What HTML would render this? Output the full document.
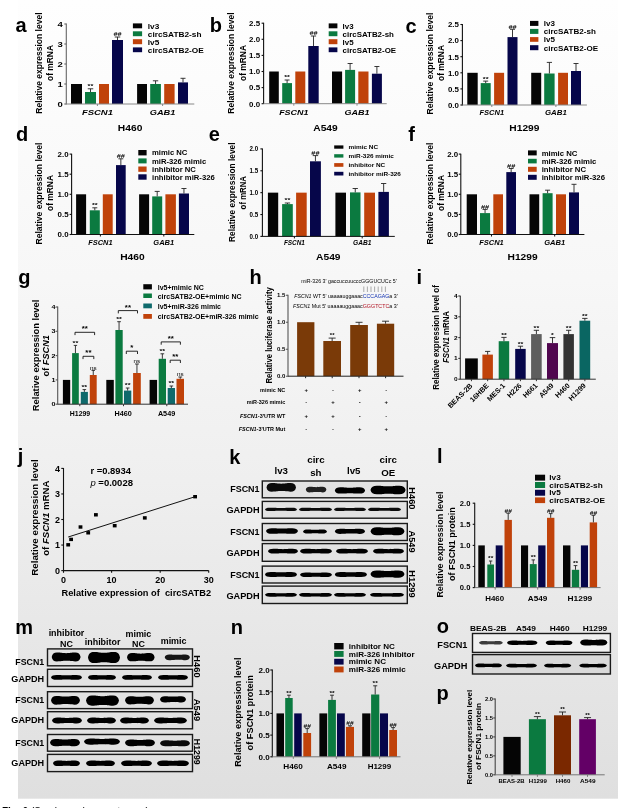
<!DOCTYPE html><html><head><meta charset="utf-8"><style>html,body{margin:0;padding:0;background:#fff;overflow:hidden}svg{display:block}</style></head><body><svg width="624" height="808" viewBox="0 0 624 808" font-family='"Liberation Sans", Arial, sans-serif'><rect x="0" y="0" width="624" height="808" fill="#fff"/>
<defs><linearGradient id="bgg" x1="0" y1="0" x2="0" y2="1"><stop offset="0" stop-color="#fefefe"/><stop offset="0.35" stop-color="#f7f7f7"/><stop offset="0.6" stop-color="#efefef"/><stop offset="1" stop-color="#dfdfdf"/></linearGradient><filter id="blur1" x="-20%" y="-80%" width="140%" height="260%"><feGaussianBlur stdDeviation="0.7"/></filter><filter id="blur2" x="-20%" y="-80%" width="140%" height="260%"><feGaussianBlur stdDeviation="0.8"/></filter></defs>
<rect x="18" y="0" width="600" height="798.7" fill="url(#bgg)"/>
<text x="15.50" y="31.70" font-size="20" font-weight="bold" textLength="11.12" lengthAdjust="spacingAndGlyphs">a</text>
<text transform="translate(42.04,63.10) rotate(-90)" font-size="9.0" font-weight="bold" text-anchor="middle" textLength="101.20" lengthAdjust="spacingAndGlyphs">Relative expression level</text>
<text transform="translate(53.44,63.00) rotate(-90)" font-size="9.0" font-weight="bold" text-anchor="middle" textLength="36.00" lengthAdjust="spacingAndGlyphs">of mRNA</text>
<line x1="66.30" y1="23.60" x2="66.30" y2="104.40" stroke="#666" stroke-width="1.1"/>
<line x1="64.30" y1="104.00" x2="66.30" y2="104.00" stroke="#666" stroke-width="1.1"/>
<text x="62.80" y="106.88" font-size="8.0" font-weight="bold" text-anchor="end" textLength="5.29" lengthAdjust="spacingAndGlyphs">0</text>
<line x1="64.30" y1="84.00" x2="66.30" y2="84.00" stroke="#666" stroke-width="1.1"/>
<text x="62.80" y="86.88" font-size="8.0" font-weight="bold" text-anchor="end" textLength="5.29" lengthAdjust="spacingAndGlyphs">1</text>
<line x1="64.30" y1="64.00" x2="66.30" y2="64.00" stroke="#666" stroke-width="1.1"/>
<text x="62.80" y="66.88" font-size="8.0" font-weight="bold" text-anchor="end" textLength="5.29" lengthAdjust="spacingAndGlyphs">2</text>
<line x1="64.30" y1="44.00" x2="66.30" y2="44.00" stroke="#666" stroke-width="1.1"/>
<text x="62.80" y="46.88" font-size="8.0" font-weight="bold" text-anchor="end" textLength="5.29" lengthAdjust="spacingAndGlyphs">3</text>
<line x1="64.30" y1="24.00" x2="66.30" y2="24.00" stroke="#666" stroke-width="1.1"/>
<text x="62.80" y="26.88" font-size="8.0" font-weight="bold" text-anchor="end" textLength="5.29" lengthAdjust="spacingAndGlyphs">4</text>
<rect x="71.00" y="84.00" width="11.00" height="20.00" fill="#050505" />
<rect x="85.00" y="92.00" width="11.00" height="12.00" fill="#0b7a40" />
<line x1="90.50" y1="88.80" x2="90.50" y2="92.00" stroke="#222" stroke-width="0.9"/>
<line x1="87.75" y1="88.80" x2="93.25" y2="88.80" stroke="#222" stroke-width="0.9"/>
<text x="90.50" y="88.20" font-size="6.2" font-weight="bold" text-anchor="middle" textLength="5.74" lengthAdjust="spacingAndGlyphs">**</text>
<rect x="99.00" y="84.00" width="10.00" height="20.00" fill="#c0420a" />
<rect x="112.00" y="40.00" width="11.00" height="64.00" fill="#06064a" />
<line x1="117.50" y1="37.00" x2="117.50" y2="40.00" stroke="#222" stroke-width="0.9"/>
<line x1="114.75" y1="37.00" x2="120.25" y2="37.00" stroke="#222" stroke-width="0.9"/>
<text x="117.50" y="36.40" font-size="6.2" font-weight="bold" text-anchor="middle" textLength="8.21" lengthAdjust="spacingAndGlyphs">##</text>
<rect x="137.10" y="84.00" width="9.90" height="20.00" fill="#050505" />
<rect x="150.20" y="84.00" width="10.70" height="20.00" fill="#0b7a40" />
<line x1="155.55" y1="80.80" x2="155.55" y2="84.00" stroke="#222" stroke-width="0.9"/>
<line x1="152.88" y1="80.80" x2="158.23" y2="80.80" stroke="#222" stroke-width="0.9"/>
<rect x="164.20" y="84.00" width="10.40" height="20.00" fill="#c0420a" />
<rect x="178.00" y="82.40" width="10.00" height="21.60" fill="#06064a" />
<line x1="183.00" y1="78.30" x2="183.00" y2="82.40" stroke="#222" stroke-width="0.9"/>
<line x1="180.50" y1="78.30" x2="185.50" y2="78.30" stroke="#222" stroke-width="0.9"/>
<line x1="66.30" y1="104.00" x2="194.30" y2="104.00" stroke="#888" stroke-width="1.0"/>
<line x1="97.40" y1="104.00" x2="97.40" y2="106.00" stroke="#888" stroke-width="1.0"/>
<line x1="162.60" y1="104.00" x2="162.60" y2="106.00" stroke="#888" stroke-width="1.0"/>
<text x="97.40" y="114.70" font-size="7.8" font-weight="bold" text-anchor="middle" textLength="31.00" lengthAdjust="spacingAndGlyphs"><tspan font-style="italic">FSCN1</tspan></text>
<text x="162.60" y="114.70" font-size="7.8" font-weight="bold" text-anchor="middle" textLength="25.70" lengthAdjust="spacingAndGlyphs"><tspan font-style="italic">GAB1</tspan></text>
<text x="130.10" y="131.20" font-size="8.6" font-weight="bold" text-anchor="middle" textLength="24.47" lengthAdjust="spacingAndGlyphs">H460</text>
<rect x="132.90" y="23.40" width="9.20" height="4.90" fill="#050505" />
<text x="147.80" y="28.77" font-size="8.1" font-weight="bold" textLength="11.51" lengthAdjust="spacingAndGlyphs">lv3</text>
<rect x="132.90" y="31.30" width="9.20" height="4.90" fill="#0b7a40" />
<text x="147.80" y="36.67" font-size="8.1" font-weight="bold" textLength="53.70" lengthAdjust="spacingAndGlyphs">circSATB2-sh</text>
<rect x="132.90" y="39.20" width="9.20" height="5.00" fill="#c0420a" />
<text x="147.80" y="44.62" font-size="8.1" font-weight="bold" textLength="11.51" lengthAdjust="spacingAndGlyphs">lv5</text>
<rect x="132.90" y="47.40" width="9.20" height="4.80" fill="#06064a" />
<text x="147.80" y="52.72" font-size="8.1" font-weight="bold" textLength="56.00" lengthAdjust="spacingAndGlyphs">circSATB2-OE</text>
<text x="209.70" y="31.80" font-size="20" font-weight="bold" textLength="12.22" lengthAdjust="spacingAndGlyphs">b</text>
<text transform="translate(233.84,63.10) rotate(-90)" font-size="9.0" font-weight="bold" text-anchor="middle" textLength="101.20" lengthAdjust="spacingAndGlyphs">Relative expression level</text>
<text transform="translate(245.54,63.00) rotate(-90)" font-size="9.0" font-weight="bold" text-anchor="middle" textLength="36.00" lengthAdjust="spacingAndGlyphs">of mRNA</text>
<line x1="263.60" y1="22.80" x2="263.60" y2="104.10" stroke="#111" stroke-width="1.1"/>
<line x1="261.60" y1="103.70" x2="263.60" y2="103.70" stroke="#111" stroke-width="1.1"/>
<text x="260.10" y="106.58" font-size="8.0" font-weight="bold" text-anchor="end" textLength="11.00" lengthAdjust="spacingAndGlyphs">0.0</text>
<line x1="261.60" y1="87.60" x2="263.60" y2="87.60" stroke="#111" stroke-width="1.1"/>
<text x="260.10" y="90.48" font-size="8.0" font-weight="bold" text-anchor="end" textLength="11.00" lengthAdjust="spacingAndGlyphs">0.5</text>
<line x1="261.60" y1="71.50" x2="263.60" y2="71.50" stroke="#111" stroke-width="1.1"/>
<text x="260.10" y="74.38" font-size="8.0" font-weight="bold" text-anchor="end" textLength="11.00" lengthAdjust="spacingAndGlyphs">1.0</text>
<line x1="261.60" y1="55.40" x2="263.60" y2="55.40" stroke="#111" stroke-width="1.1"/>
<text x="260.10" y="58.28" font-size="8.0" font-weight="bold" text-anchor="end" textLength="11.00" lengthAdjust="spacingAndGlyphs">1.5</text>
<line x1="261.60" y1="39.30" x2="263.60" y2="39.30" stroke="#111" stroke-width="1.1"/>
<text x="260.10" y="42.18" font-size="8.0" font-weight="bold" text-anchor="end" textLength="11.00" lengthAdjust="spacingAndGlyphs">2.0</text>
<line x1="261.60" y1="23.20" x2="263.60" y2="23.20" stroke="#111" stroke-width="1.1"/>
<text x="260.10" y="26.08" font-size="8.0" font-weight="bold" text-anchor="end" textLength="11.00" lengthAdjust="spacingAndGlyphs">2.5</text>
<rect x="269.20" y="71.50" width="9.60" height="32.20" fill="#050505" />
<rect x="282.20" y="83.10" width="9.80" height="20.60" fill="#0b7a40" />
<line x1="287.10" y1="80.00" x2="287.10" y2="83.10" stroke="#222" stroke-width="0.9"/>
<line x1="284.65" y1="80.00" x2="289.55" y2="80.00" stroke="#222" stroke-width="0.9"/>
<text x="287.10" y="79.40" font-size="6.2" font-weight="bold" text-anchor="middle" textLength="5.74" lengthAdjust="spacingAndGlyphs">**</text>
<rect x="295.30" y="71.50" width="10.00" height="32.20" fill="#c0420a" />
<rect x="308.30" y="46.00" width="10.40" height="57.70" fill="#06064a" />
<line x1="313.50" y1="36.00" x2="313.50" y2="46.00" stroke="#222" stroke-width="0.9"/>
<line x1="310.90" y1="36.00" x2="316.10" y2="36.00" stroke="#222" stroke-width="0.9"/>
<text x="313.50" y="35.40" font-size="6.2" font-weight="bold" text-anchor="middle" textLength="8.21" lengthAdjust="spacingAndGlyphs">##</text>
<rect x="332.00" y="71.50" width="10.10" height="32.20" fill="#050505" />
<rect x="345.10" y="69.90" width="10.00" height="33.80" fill="#0b7a40" />
<line x1="350.10" y1="63.50" x2="350.10" y2="69.90" stroke="#222" stroke-width="0.9"/>
<line x1="347.60" y1="63.50" x2="352.60" y2="63.50" stroke="#222" stroke-width="0.9"/>
<rect x="358.30" y="71.50" width="10.20" height="32.20" fill="#c0420a" />
<rect x="371.90" y="73.70" width="10.00" height="30.00" fill="#06064a" />
<line x1="376.90" y1="66.50" x2="376.90" y2="73.70" stroke="#222" stroke-width="0.9"/>
<line x1="374.40" y1="66.50" x2="379.40" y2="66.50" stroke="#222" stroke-width="0.9"/>
<line x1="263.60" y1="103.70" x2="386.70" y2="103.70" stroke="#888" stroke-width="1.0"/>
<line x1="293.80" y1="103.70" x2="293.80" y2="105.70" stroke="#888" stroke-width="1.0"/>
<line x1="357.00" y1="103.70" x2="357.00" y2="105.70" stroke="#888" stroke-width="1.0"/>
<text x="293.80" y="114.70" font-size="7.6" font-weight="bold" text-anchor="middle" textLength="29.30" lengthAdjust="spacingAndGlyphs"><tspan font-style="italic">FSCN1</tspan></text>
<text x="357.00" y="114.70" font-size="7.6" font-weight="bold" text-anchor="middle" textLength="25.10" lengthAdjust="spacingAndGlyphs"><tspan font-style="italic">GAB1</tspan></text>
<text x="325.50" y="131.20" font-size="8.6" font-weight="bold" text-anchor="middle" textLength="24.47" lengthAdjust="spacingAndGlyphs">A549</text>
<rect x="328.70" y="23.40" width="8.70" height="4.90" fill="#050505" />
<text x="342.60" y="28.77" font-size="8.1" font-weight="bold" textLength="11.00" lengthAdjust="spacingAndGlyphs">lv3</text>
<rect x="328.70" y="31.30" width="8.70" height="4.90" fill="#0b7a40" />
<text x="342.60" y="36.67" font-size="8.1" font-weight="bold" textLength="51.30" lengthAdjust="spacingAndGlyphs">circSATB2-sh</text>
<rect x="328.70" y="39.20" width="8.70" height="5.00" fill="#c0420a" />
<text x="342.60" y="44.62" font-size="8.1" font-weight="bold" textLength="11.00" lengthAdjust="spacingAndGlyphs">lv5</text>
<rect x="328.70" y="47.40" width="8.70" height="4.80" fill="#06064a" />
<text x="342.60" y="52.72" font-size="8.1" font-weight="bold" textLength="53.50" lengthAdjust="spacingAndGlyphs">circSATB2-OE</text>
<text x="405.60" y="32.60" font-size="20" font-weight="bold" textLength="11.12" lengthAdjust="spacingAndGlyphs">c</text>
<text transform="translate(432.64,63.50) rotate(-90)" font-size="9.0" font-weight="bold" text-anchor="middle" textLength="102.00" lengthAdjust="spacingAndGlyphs">Relative expression level</text>
<text transform="translate(443.94,63.00) rotate(-90)" font-size="9.0" font-weight="bold" text-anchor="middle" textLength="36.00" lengthAdjust="spacingAndGlyphs">of mRNA</text>
<line x1="462.40" y1="24.10" x2="462.40" y2="105.40" stroke="#111" stroke-width="1.1"/>
<line x1="460.40" y1="105.00" x2="462.40" y2="105.00" stroke="#111" stroke-width="1.1"/>
<text x="458.90" y="107.88" font-size="8.0" font-weight="bold" text-anchor="end" textLength="11.00" lengthAdjust="spacingAndGlyphs">0.0</text>
<line x1="460.40" y1="88.90" x2="462.40" y2="88.90" stroke="#111" stroke-width="1.1"/>
<text x="458.90" y="91.78" font-size="8.0" font-weight="bold" text-anchor="end" textLength="11.00" lengthAdjust="spacingAndGlyphs">0.5</text>
<line x1="460.40" y1="72.80" x2="462.40" y2="72.80" stroke="#111" stroke-width="1.1"/>
<text x="458.90" y="75.68" font-size="8.0" font-weight="bold" text-anchor="end" textLength="11.00" lengthAdjust="spacingAndGlyphs">1.0</text>
<line x1="460.40" y1="56.70" x2="462.40" y2="56.70" stroke="#111" stroke-width="1.1"/>
<text x="458.90" y="59.58" font-size="8.0" font-weight="bold" text-anchor="end" textLength="11.00" lengthAdjust="spacingAndGlyphs">1.5</text>
<line x1="460.40" y1="40.60" x2="462.40" y2="40.60" stroke="#111" stroke-width="1.1"/>
<text x="458.90" y="43.48" font-size="8.0" font-weight="bold" text-anchor="end" textLength="11.00" lengthAdjust="spacingAndGlyphs">2.0</text>
<line x1="460.40" y1="24.50" x2="462.40" y2="24.50" stroke="#111" stroke-width="1.1"/>
<text x="458.90" y="27.38" font-size="8.0" font-weight="bold" text-anchor="end" textLength="11.00" lengthAdjust="spacingAndGlyphs">2.5</text>
<rect x="467.30" y="72.80" width="10.40" height="32.20" fill="#050505" />
<rect x="480.70" y="83.10" width="10.00" height="21.90" fill="#0b7a40" />
<line x1="485.70" y1="81.10" x2="485.70" y2="83.10" stroke="#222" stroke-width="0.9"/>
<line x1="483.20" y1="81.10" x2="488.20" y2="81.10" stroke="#222" stroke-width="0.9"/>
<text x="485.70" y="80.50" font-size="6.2" font-weight="bold" text-anchor="middle" textLength="5.74" lengthAdjust="spacingAndGlyphs">**</text>
<rect x="494.10" y="72.80" width="10.00" height="32.20" fill="#c0420a" />
<rect x="507.50" y="37.10" width="10.00" height="67.90" fill="#06064a" />
<line x1="512.50" y1="29.30" x2="512.50" y2="37.10" stroke="#222" stroke-width="0.9"/>
<line x1="510.00" y1="29.30" x2="515.00" y2="29.30" stroke="#222" stroke-width="0.9"/>
<text x="512.50" y="28.70" font-size="6.2" font-weight="bold" text-anchor="middle" textLength="8.21" lengthAdjust="spacingAndGlyphs">##</text>
<rect x="531.20" y="72.80" width="10.00" height="32.20" fill="#050505" />
<rect x="544.20" y="73.50" width="10.40" height="31.50" fill="#0b7a40" />
<line x1="549.40" y1="62.40" x2="549.40" y2="73.50" stroke="#222" stroke-width="0.9"/>
<line x1="546.80" y1="62.40" x2="552.00" y2="62.40" stroke="#222" stroke-width="0.9"/>
<rect x="558.10" y="72.80" width="9.90" height="32.20" fill="#c0420a" />
<rect x="571.00" y="71.00" width="10.00" height="34.00" fill="#06064a" />
<line x1="576.00" y1="63.50" x2="576.00" y2="71.00" stroke="#222" stroke-width="0.9"/>
<line x1="573.50" y1="63.50" x2="578.50" y2="63.50" stroke="#222" stroke-width="0.9"/>
<line x1="462.40" y1="105.00" x2="586.90" y2="105.00" stroke="#888" stroke-width="1.0"/>
<line x1="491.80" y1="105.00" x2="491.80" y2="107.00" stroke="#888" stroke-width="1.0"/>
<line x1="555.90" y1="105.00" x2="555.90" y2="107.00" stroke="#888" stroke-width="1.0"/>
<text x="491.80" y="115.00" font-size="7.0" font-weight="bold" text-anchor="middle" textLength="24.50" lengthAdjust="spacingAndGlyphs"><tspan font-style="italic">FSCN1</tspan></text>
<text x="555.90" y="115.00" font-size="7.0" font-weight="bold" text-anchor="middle" textLength="21.80" lengthAdjust="spacingAndGlyphs"><tspan font-style="italic">GAB1</tspan></text>
<text x="524.40" y="131.20" font-size="8.6" font-weight="bold" text-anchor="middle" textLength="30.16" lengthAdjust="spacingAndGlyphs">H1299</text>
<rect x="530.00" y="20.90" width="8.40" height="5.00" fill="#050505" />
<text x="543.70" y="26.32" font-size="8.1" font-weight="bold" textLength="11.18" lengthAdjust="spacingAndGlyphs">lv3</text>
<rect x="530.00" y="28.90" width="8.40" height="5.00" fill="#0b7a40" />
<text x="543.70" y="34.32" font-size="8.1" font-weight="bold" textLength="52.16" lengthAdjust="spacingAndGlyphs">circSATB2-sh</text>
<rect x="530.00" y="37.10" width="8.40" height="4.70" fill="#c0420a" />
<text x="543.70" y="42.37" font-size="8.1" font-weight="bold" textLength="11.18" lengthAdjust="spacingAndGlyphs">lv5</text>
<rect x="530.00" y="45.20" width="8.40" height="5.00" fill="#06064a" />
<text x="543.70" y="50.62" font-size="8.1" font-weight="bold" textLength="54.40" lengthAdjust="spacingAndGlyphs">circSATB2-OE</text>
<text x="15.90" y="141.20" font-size="20" font-weight="bold" textLength="12.22" lengthAdjust="spacingAndGlyphs">d</text>
<text transform="translate(42.04,193.50) rotate(-90)" font-size="9.0" font-weight="bold" text-anchor="middle" textLength="102.00" lengthAdjust="spacingAndGlyphs">Relative expression level</text>
<text transform="translate(53.44,193.00) rotate(-90)" font-size="9.0" font-weight="bold" text-anchor="middle" textLength="36.00" lengthAdjust="spacingAndGlyphs">of mRNA</text>
<line x1="71.60" y1="153.70" x2="71.60" y2="234.90" stroke="#111" stroke-width="1.1"/>
<line x1="69.60" y1="234.50" x2="71.60" y2="234.50" stroke="#111" stroke-width="1.1"/>
<text x="68.60" y="237.38" font-size="8.0" font-weight="bold" text-anchor="end" textLength="11.00" lengthAdjust="spacingAndGlyphs">0.0</text>
<line x1="69.60" y1="214.40" x2="71.60" y2="214.40" stroke="#111" stroke-width="1.1"/>
<text x="68.60" y="217.28" font-size="8.0" font-weight="bold" text-anchor="end" textLength="11.00" lengthAdjust="spacingAndGlyphs">0.5</text>
<line x1="69.60" y1="194.30" x2="71.60" y2="194.30" stroke="#111" stroke-width="1.1"/>
<text x="68.60" y="197.18" font-size="8.0" font-weight="bold" text-anchor="end" textLength="11.00" lengthAdjust="spacingAndGlyphs">1.0</text>
<line x1="69.60" y1="174.20" x2="71.60" y2="174.20" stroke="#111" stroke-width="1.1"/>
<text x="68.60" y="177.08" font-size="8.0" font-weight="bold" text-anchor="end" textLength="11.00" lengthAdjust="spacingAndGlyphs">1.5</text>
<line x1="69.60" y1="154.10" x2="71.60" y2="154.10" stroke="#111" stroke-width="1.1"/>
<text x="68.60" y="156.98" font-size="8.0" font-weight="bold" text-anchor="end" textLength="11.00" lengthAdjust="spacingAndGlyphs">2.0</text>
<rect x="76.10" y="194.30" width="10.00" height="40.20" fill="#050505" />
<rect x="89.80" y="210.30" width="10.00" height="24.20" fill="#0b7a40" />
<line x1="94.80" y1="207.80" x2="94.80" y2="210.30" stroke="#222" stroke-width="0.9"/>
<line x1="92.30" y1="207.80" x2="97.30" y2="207.80" stroke="#222" stroke-width="0.9"/>
<text x="94.80" y="207.20" font-size="6.2" font-weight="bold" text-anchor="middle" textLength="5.74" lengthAdjust="spacingAndGlyphs">**</text>
<rect x="102.80" y="194.30" width="9.90" height="40.20" fill="#c0420a" />
<rect x="116.00" y="165.10" width="9.70" height="69.40" fill="#06064a" />
<line x1="120.85" y1="158.80" x2="120.85" y2="165.10" stroke="#222" stroke-width="0.9"/>
<line x1="118.42" y1="158.80" x2="123.27" y2="158.80" stroke="#222" stroke-width="0.9"/>
<text x="120.85" y="158.20" font-size="6.2" font-weight="bold" text-anchor="middle" textLength="8.21" lengthAdjust="spacingAndGlyphs">##</text>
<rect x="139.10" y="194.30" width="10.00" height="40.20" fill="#050505" />
<rect x="152.20" y="196.40" width="10.00" height="38.10" fill="#0b7a40" />
<line x1="157.20" y1="191.40" x2="157.20" y2="196.40" stroke="#222" stroke-width="0.9"/>
<line x1="154.70" y1="191.40" x2="159.70" y2="191.40" stroke="#222" stroke-width="0.9"/>
<rect x="165.40" y="194.30" width="10.50" height="40.20" fill="#c0420a" />
<rect x="178.90" y="193.50" width="10.10" height="41.00" fill="#06064a" />
<line x1="183.95" y1="188.50" x2="183.95" y2="193.50" stroke="#222" stroke-width="0.9"/>
<line x1="181.42" y1="188.50" x2="186.47" y2="188.50" stroke="#222" stroke-width="0.9"/>
<line x1="71.60" y1="234.50" x2="194.30" y2="234.50" stroke="#111" stroke-width="1.0"/>
<line x1="100.40" y1="234.50" x2="100.40" y2="236.50" stroke="#111" stroke-width="1.0"/>
<line x1="163.80" y1="234.50" x2="163.80" y2="236.50" stroke="#111" stroke-width="1.0"/>
<text x="100.40" y="245.00" font-size="7.0" font-weight="bold" text-anchor="middle" textLength="24.30" lengthAdjust="spacingAndGlyphs"><tspan font-style="italic">FSCN1</tspan></text>
<text x="163.80" y="245.00" font-size="7.0" font-weight="bold" text-anchor="middle" textLength="20.90" lengthAdjust="spacingAndGlyphs"><tspan font-style="italic">GAB1</tspan></text>
<text x="132.40" y="260.10" font-size="8.6" font-weight="bold" text-anchor="middle" textLength="24.47" lengthAdjust="spacingAndGlyphs">H460</text>
<rect x="138.30" y="150.00" width="8.30" height="5.40" fill="#050505" />
<text x="152.00" y="155.33" font-size="7.3" font-weight="bold" textLength="35.41" lengthAdjust="spacingAndGlyphs">mimic NC</text>
<rect x="138.30" y="158.40" width="8.30" height="5.00" fill="#0b7a40" />
<text x="152.00" y="163.53" font-size="7.3" font-weight="bold" textLength="54.19" lengthAdjust="spacingAndGlyphs">miR-326 mimic</text>
<rect x="138.30" y="166.50" width="8.30" height="5.30" fill="#c0420a" />
<text x="152.00" y="171.78" font-size="7.3" font-weight="bold" textLength="43.92" lengthAdjust="spacingAndGlyphs">inhibitor NC</text>
<rect x="138.30" y="174.30" width="8.30" height="5.40" fill="#06064a" />
<text x="152.00" y="179.63" font-size="7.3" font-weight="bold" textLength="62.70" lengthAdjust="spacingAndGlyphs">inhibitor miR-326</text>
<text x="208.80" y="140.90" font-size="20" font-weight="bold" textLength="11.12" lengthAdjust="spacingAndGlyphs">e</text>
<text transform="translate(235.44,192.20) rotate(-90)" font-size="9.0" font-weight="bold" text-anchor="middle" textLength="99.50" lengthAdjust="spacingAndGlyphs">Relative expression level</text>
<text transform="translate(246.34,192.70) rotate(-90)" font-size="9.0" font-weight="bold" text-anchor="middle" textLength="33.40" lengthAdjust="spacingAndGlyphs">of mRNA</text>
<line x1="262.40" y1="148.50" x2="262.40" y2="236.80" stroke="#111" stroke-width="1.1"/>
<line x1="260.40" y1="236.40" x2="262.40" y2="236.40" stroke="#111" stroke-width="1.1"/>
<text x="258.20" y="238.85" font-size="6.8" font-weight="bold" text-anchor="end" textLength="8.60" lengthAdjust="spacingAndGlyphs">0.0</text>
<line x1="260.40" y1="214.53" x2="262.40" y2="214.53" stroke="#111" stroke-width="1.1"/>
<text x="258.20" y="216.97" font-size="6.8" font-weight="bold" text-anchor="end" textLength="8.60" lengthAdjust="spacingAndGlyphs">0.5</text>
<line x1="260.40" y1="192.65" x2="262.40" y2="192.65" stroke="#111" stroke-width="1.1"/>
<text x="258.20" y="195.10" font-size="6.8" font-weight="bold" text-anchor="end" textLength="8.60" lengthAdjust="spacingAndGlyphs">1.0</text>
<line x1="260.40" y1="170.78" x2="262.40" y2="170.78" stroke="#111" stroke-width="1.1"/>
<text x="258.20" y="173.22" font-size="6.8" font-weight="bold" text-anchor="end" textLength="8.60" lengthAdjust="spacingAndGlyphs">1.5</text>
<line x1="260.40" y1="148.90" x2="262.40" y2="148.90" stroke="#111" stroke-width="1.1"/>
<text x="258.20" y="151.35" font-size="6.8" font-weight="bold" text-anchor="end" textLength="8.60" lengthAdjust="spacingAndGlyphs">2.0</text>
<rect x="267.90" y="192.65" width="10.30" height="43.75" fill="#050505" />
<rect x="282.10" y="204.10" width="10.70" height="32.30" fill="#0b7a40" />
<line x1="287.45" y1="203.00" x2="287.45" y2="204.10" stroke="#222" stroke-width="0.9"/>
<line x1="284.78" y1="203.00" x2="290.13" y2="203.00" stroke="#222" stroke-width="0.9"/>
<text x="287.45" y="202.40" font-size="6.2" font-weight="bold" text-anchor="middle" textLength="5.74" lengthAdjust="spacingAndGlyphs">**</text>
<rect x="296.10" y="192.65" width="10.60" height="43.75" fill="#c0420a" />
<rect x="310.00" y="161.30" width="10.90" height="75.10" fill="#06064a" />
<line x1="315.45" y1="155.60" x2="315.45" y2="161.30" stroke="#222" stroke-width="0.9"/>
<line x1="312.73" y1="155.60" x2="318.17" y2="155.60" stroke="#222" stroke-width="0.9"/>
<text x="315.45" y="155.00" font-size="6.2" font-weight="bold" text-anchor="middle" textLength="8.21" lengthAdjust="spacingAndGlyphs">##</text>
<rect x="335.40" y="192.65" width="10.60" height="43.75" fill="#050505" />
<rect x="350.00" y="192.40" width="10.50" height="44.00" fill="#0b7a40" />
<line x1="355.25" y1="188.50" x2="355.25" y2="192.40" stroke="#222" stroke-width="0.9"/>
<line x1="352.62" y1="188.50" x2="357.88" y2="188.50" stroke="#222" stroke-width="0.9"/>
<rect x="364.20" y="192.65" width="10.80" height="43.75" fill="#c0420a" />
<rect x="378.40" y="191.90" width="10.50" height="44.50" fill="#06064a" />
<line x1="383.65" y1="183.50" x2="383.65" y2="191.90" stroke="#222" stroke-width="0.9"/>
<line x1="381.02" y1="183.50" x2="386.27" y2="183.50" stroke="#222" stroke-width="0.9"/>
<line x1="262.40" y1="236.40" x2="394.80" y2="236.40" stroke="#111" stroke-width="1.0"/>
<line x1="294.40" y1="236.40" x2="294.40" y2="238.40" stroke="#111" stroke-width="1.0"/>
<line x1="362.20" y1="236.40" x2="362.20" y2="238.40" stroke="#111" stroke-width="1.0"/>
<text x="294.40" y="245.40" font-size="6.4" font-weight="bold" text-anchor="middle" textLength="21.00" lengthAdjust="spacingAndGlyphs"><tspan font-style="italic">FSCN1</tspan></text>
<text x="362.20" y="245.40" font-size="6.4" font-weight="bold" text-anchor="middle" textLength="18.40" lengthAdjust="spacingAndGlyphs"><tspan font-style="italic">GAB1</tspan></text>
<text x="328.30" y="259.60" font-size="8.6" font-weight="bold" text-anchor="middle" textLength="24.47" lengthAdjust="spacingAndGlyphs">A549</text>
<rect x="334.20" y="145.40" width="9.20" height="3.30" fill="#050505" />
<text x="348.60" y="149.14" font-size="5.8" font-weight="bold" textLength="29.53" lengthAdjust="spacingAndGlyphs">mimic NC</text>
<rect x="334.20" y="154.20" width="9.20" height="3.40" fill="#0b7a40" />
<text x="348.60" y="157.99" font-size="5.8" font-weight="bold" textLength="45.20" lengthAdjust="spacingAndGlyphs">miR-326 mimic</text>
<rect x="334.20" y="163.10" width="9.20" height="3.70" fill="#c0420a" />
<text x="348.60" y="167.04" font-size="5.8" font-weight="bold" textLength="36.64" lengthAdjust="spacingAndGlyphs">inhibitor NC</text>
<rect x="334.20" y="171.80" width="9.20" height="3.70" fill="#06064a" />
<text x="348.60" y="175.74" font-size="5.8" font-weight="bold" textLength="52.30" lengthAdjust="spacingAndGlyphs">inhibitor miR-326</text>
<text x="408.30" y="141.20" font-size="20" font-weight="bold" textLength="6.66" lengthAdjust="spacingAndGlyphs">f</text>
<text transform="translate(432.64,193.50) rotate(-90)" font-size="9.0" font-weight="bold" text-anchor="middle" textLength="102.00" lengthAdjust="spacingAndGlyphs">Relative expression level</text>
<text transform="translate(443.94,193.00) rotate(-90)" font-size="9.0" font-weight="bold" text-anchor="middle" textLength="36.00" lengthAdjust="spacingAndGlyphs">of mRNA</text>
<line x1="460.80" y1="153.70" x2="460.80" y2="234.90" stroke="#111" stroke-width="1.1"/>
<line x1="458.80" y1="234.50" x2="460.80" y2="234.50" stroke="#111" stroke-width="1.1"/>
<text x="458.20" y="237.38" font-size="8.0" font-weight="bold" text-anchor="end" textLength="11.00" lengthAdjust="spacingAndGlyphs">0.0</text>
<line x1="458.80" y1="214.40" x2="460.80" y2="214.40" stroke="#111" stroke-width="1.1"/>
<text x="458.20" y="217.28" font-size="8.0" font-weight="bold" text-anchor="end" textLength="11.00" lengthAdjust="spacingAndGlyphs">0.5</text>
<line x1="458.80" y1="194.30" x2="460.80" y2="194.30" stroke="#111" stroke-width="1.1"/>
<text x="458.20" y="197.18" font-size="8.0" font-weight="bold" text-anchor="end" textLength="11.00" lengthAdjust="spacingAndGlyphs">1.0</text>
<line x1="458.80" y1="174.20" x2="460.80" y2="174.20" stroke="#111" stroke-width="1.1"/>
<text x="458.20" y="177.08" font-size="8.0" font-weight="bold" text-anchor="end" textLength="11.00" lengthAdjust="spacingAndGlyphs">1.5</text>
<line x1="458.80" y1="154.10" x2="460.80" y2="154.10" stroke="#111" stroke-width="1.1"/>
<text x="458.20" y="156.98" font-size="8.0" font-weight="bold" text-anchor="end" textLength="11.00" lengthAdjust="spacingAndGlyphs">2.0</text>
<rect x="466.70" y="194.30" width="10.30" height="40.20" fill="#050505" />
<rect x="480.00" y="213.10" width="10.10" height="21.40" fill="#0b7a40" />
<line x1="485.05" y1="209.40" x2="485.05" y2="213.10" stroke="#222" stroke-width="0.9"/>
<line x1="482.52" y1="209.40" x2="487.58" y2="209.40" stroke="#222" stroke-width="0.9"/>
<text x="485.05" y="208.80" font-size="6.2" font-weight="bold" text-anchor="middle" textLength="8.21" lengthAdjust="spacingAndGlyphs">##</text>
<rect x="493.30" y="194.30" width="9.70" height="40.20" fill="#c0420a" />
<rect x="506.30" y="172.10" width="9.70" height="62.40" fill="#06064a" />
<line x1="511.15" y1="168.50" x2="511.15" y2="172.10" stroke="#222" stroke-width="0.9"/>
<line x1="508.72" y1="168.50" x2="513.57" y2="168.50" stroke="#222" stroke-width="0.9"/>
<text x="511.15" y="167.90" font-size="6.2" font-weight="bold" text-anchor="middle" textLength="8.21" lengthAdjust="spacingAndGlyphs">##</text>
<rect x="529.50" y="194.30" width="9.70" height="40.20" fill="#050505" />
<rect x="542.60" y="193.20" width="10.00" height="41.30" fill="#0b7a40" />
<line x1="547.60" y1="190.20" x2="547.60" y2="193.20" stroke="#222" stroke-width="0.9"/>
<line x1="545.10" y1="190.20" x2="550.10" y2="190.20" stroke="#222" stroke-width="0.9"/>
<rect x="556.00" y="194.30" width="10.00" height="40.20" fill="#c0420a" />
<rect x="569.00" y="192.40" width="10.00" height="42.10" fill="#06064a" />
<line x1="574.00" y1="184.30" x2="574.00" y2="192.40" stroke="#222" stroke-width="0.9"/>
<line x1="571.50" y1="184.30" x2="576.50" y2="184.30" stroke="#222" stroke-width="0.9"/>
<line x1="460.80" y1="234.50" x2="584.40" y2="234.50" stroke="#111" stroke-width="1.0"/>
<line x1="491.50" y1="234.50" x2="491.50" y2="236.50" stroke="#111" stroke-width="1.0"/>
<line x1="554.70" y1="234.50" x2="554.70" y2="236.50" stroke="#111" stroke-width="1.0"/>
<text x="491.50" y="245.00" font-size="7.0" font-weight="bold" text-anchor="middle" textLength="24.60" lengthAdjust="spacingAndGlyphs"><tspan font-style="italic">FSCN1</tspan></text>
<text x="554.70" y="245.00" font-size="7.0" font-weight="bold" text-anchor="middle" textLength="21.00" lengthAdjust="spacingAndGlyphs"><tspan font-style="italic">GAB1</tspan></text>
<text x="522.60" y="259.60" font-size="8.6" font-weight="bold" text-anchor="middle" textLength="30.16" lengthAdjust="spacingAndGlyphs">H1299</text>
<rect x="528.00" y="150.40" width="8.70" height="5.00" fill="#050505" />
<text x="541.70" y="155.53" font-size="7.3" font-weight="bold" textLength="35.75" lengthAdjust="spacingAndGlyphs">mimic NC</text>
<rect x="528.00" y="158.80" width="8.70" height="4.60" fill="#0b7a40" />
<text x="541.70" y="163.73" font-size="7.3" font-weight="bold" textLength="54.71" lengthAdjust="spacingAndGlyphs">miR-326 mimic</text>
<rect x="528.00" y="166.80" width="8.70" height="5.00" fill="#c0420a" />
<text x="541.70" y="171.93" font-size="7.3" font-weight="bold" textLength="44.34" lengthAdjust="spacingAndGlyphs">inhibitor NC</text>
<rect x="528.00" y="174.80" width="8.70" height="5.00" fill="#06064a" />
<text x="541.70" y="179.93" font-size="7.3" font-weight="bold" textLength="63.30" lengthAdjust="spacingAndGlyphs">inhibitor miR-326</text>
<text x="18.30" y="284.20" font-size="20" font-weight="bold" textLength="12.22" lengthAdjust="spacingAndGlyphs">g</text>
<text transform="translate(38.84,355.40) rotate(-90)" font-size="9.0" font-weight="bold" text-anchor="middle" textLength="111.60" lengthAdjust="spacingAndGlyphs">Relative expression level</text>
<text transform="translate(49.44,355.80) rotate(-90)" font-size="9.0" font-weight="bold" text-anchor="middle" textLength="41.30" lengthAdjust="spacingAndGlyphs">of <tspan font-style="italic">FSCN1</tspan></text>
<line x1="57.70" y1="306.50" x2="57.70" y2="404.60" stroke="#555" stroke-width="1.1"/>
<line x1="55.70" y1="404.20" x2="57.70" y2="404.20" stroke="#555" stroke-width="1.1"/>
<text x="55.40" y="406.36" font-size="6.0" font-weight="bold" text-anchor="end" textLength="3.97" lengthAdjust="spacingAndGlyphs">0</text>
<line x1="55.70" y1="379.90" x2="57.70" y2="379.90" stroke="#555" stroke-width="1.1"/>
<text x="55.40" y="382.06" font-size="6.0" font-weight="bold" text-anchor="end" textLength="3.97" lengthAdjust="spacingAndGlyphs">1</text>
<line x1="55.70" y1="355.60" x2="57.70" y2="355.60" stroke="#555" stroke-width="1.1"/>
<text x="55.40" y="357.76" font-size="6.0" font-weight="bold" text-anchor="end" textLength="3.97" lengthAdjust="spacingAndGlyphs">2</text>
<line x1="55.70" y1="331.30" x2="57.70" y2="331.30" stroke="#555" stroke-width="1.1"/>
<text x="55.40" y="333.46" font-size="6.0" font-weight="bold" text-anchor="end" textLength="3.97" lengthAdjust="spacingAndGlyphs">3</text>
<line x1="55.70" y1="307.00" x2="57.70" y2="307.00" stroke="#555" stroke-width="1.1"/>
<text x="55.40" y="309.16" font-size="6.0" font-weight="bold" text-anchor="end" textLength="3.97" lengthAdjust="spacingAndGlyphs">4</text>
<rect x="62.90" y="379.90" width="7.30" height="24.30" fill="#050505" />
<rect x="72.10" y="353.10" width="6.70" height="51.10" fill="#0b7a40" />
<line x1="75.45" y1="345.40" x2="75.45" y2="353.10" stroke="#222" stroke-width="0.9"/>
<line x1="73.77" y1="345.40" x2="77.12" y2="345.40" stroke="#222" stroke-width="0.9"/>
<text x="75.45" y="344.80" font-size="6.2" font-weight="bold" text-anchor="middle" textLength="5.74" lengthAdjust="spacingAndGlyphs">**</text>
<rect x="80.80" y="391.90" width="7.10" height="12.30" fill="#0f6a6c" />
<line x1="84.35" y1="389.60" x2="84.35" y2="391.90" stroke="#222" stroke-width="0.9"/>
<line x1="82.57" y1="389.60" x2="86.12" y2="389.60" stroke="#222" stroke-width="0.9"/>
<text x="84.35" y="389.00" font-size="6.2" font-weight="bold" text-anchor="middle" textLength="5.74" lengthAdjust="spacingAndGlyphs">**</text>
<rect x="89.80" y="375.00" width="6.90" height="29.20" fill="#c0420a" />
<line x1="93.25" y1="370.40" x2="93.25" y2="375.00" stroke="#222" stroke-width="0.9"/>
<line x1="91.53" y1="370.40" x2="94.97" y2="370.40" stroke="#222" stroke-width="0.9"/>
<text x="93.25" y="369.80" font-size="5.27" font-weight="bold" text-anchor="middle" textLength="6.62" lengthAdjust="spacingAndGlyphs"><tspan font-weight="normal">ns</tspan></text>
<rect x="106.30" y="379.90" width="7.50" height="24.30" fill="#050505" />
<rect x="115.40" y="330.00" width="7.30" height="74.20" fill="#0b7a40" />
<line x1="119.05" y1="321.70" x2="119.05" y2="330.00" stroke="#222" stroke-width="0.9"/>
<line x1="117.23" y1="321.70" x2="120.88" y2="321.70" stroke="#222" stroke-width="0.9"/>
<text x="119.05" y="321.10" font-size="6.2" font-weight="bold" text-anchor="middle" textLength="5.74" lengthAdjust="spacingAndGlyphs">**</text>
<rect x="124.00" y="390.60" width="7.30" height="13.60" fill="#0f6a6c" />
<line x1="127.65" y1="388.00" x2="127.65" y2="390.60" stroke="#222" stroke-width="0.9"/>
<line x1="125.83" y1="388.00" x2="129.48" y2="388.00" stroke="#222" stroke-width="0.9"/>
<text x="127.65" y="387.40" font-size="6.2" font-weight="bold" text-anchor="middle" textLength="5.74" lengthAdjust="spacingAndGlyphs">**</text>
<rect x="133.10" y="373.00" width="7.70" height="31.20" fill="#c0420a" />
<line x1="136.95" y1="364.00" x2="136.95" y2="373.00" stroke="#222" stroke-width="0.9"/>
<line x1="135.02" y1="364.00" x2="138.88" y2="364.00" stroke="#222" stroke-width="0.9"/>
<text x="136.95" y="363.40" font-size="5.27" font-weight="bold" text-anchor="middle" textLength="6.62" lengthAdjust="spacingAndGlyphs"><tspan font-weight="normal">ns</tspan></text>
<rect x="149.60" y="379.90" width="7.50" height="24.30" fill="#050505" />
<rect x="158.70" y="358.80" width="7.30" height="45.40" fill="#0b7a40" />
<line x1="162.35" y1="353.80" x2="162.35" y2="358.80" stroke="#222" stroke-width="0.9"/>
<line x1="160.52" y1="353.80" x2="164.18" y2="353.80" stroke="#222" stroke-width="0.9"/>
<text x="162.35" y="353.20" font-size="6.2" font-weight="bold" text-anchor="middle" textLength="5.74" lengthAdjust="spacingAndGlyphs">**</text>
<rect x="167.70" y="388.00" width="7.30" height="16.20" fill="#0f6a6c" />
<line x1="171.35" y1="386.00" x2="171.35" y2="388.00" stroke="#222" stroke-width="0.9"/>
<line x1="169.52" y1="386.00" x2="173.18" y2="386.00" stroke="#222" stroke-width="0.9"/>
<text x="171.35" y="385.40" font-size="6.2" font-weight="bold" text-anchor="middle" textLength="5.74" lengthAdjust="spacingAndGlyphs">**</text>
<rect x="176.50" y="378.80" width="7.50" height="25.40" fill="#c0420a" />
<line x1="180.25" y1="377.00" x2="180.25" y2="378.80" stroke="#222" stroke-width="0.9"/>
<line x1="178.38" y1="377.00" x2="182.12" y2="377.00" stroke="#222" stroke-width="0.9"/>
<text x="180.25" y="376.40" font-size="5.27" font-weight="bold" text-anchor="middle" textLength="6.62" lengthAdjust="spacingAndGlyphs"><tspan font-weight="normal">ns</tspan></text>
<line x1="57.70" y1="404.20" x2="188.00" y2="404.20" stroke="#333" stroke-width="1.0"/>
<line x1="79.80" y1="404.20" x2="79.80" y2="406.20" stroke="#333" stroke-width="1.0"/>
<line x1="123.50" y1="404.20" x2="123.50" y2="406.20" stroke="#333" stroke-width="1.0"/>
<line x1="166.80" y1="404.20" x2="166.80" y2="406.20" stroke="#333" stroke-width="1.0"/>
<text x="80.00" y="415.80" font-size="8.0" font-weight="bold" text-anchor="middle" textLength="20.40" lengthAdjust="spacingAndGlyphs">H1299</text>
<text x="123.25" y="415.80" font-size="8.0" font-weight="bold" text-anchor="middle" textLength="17.30" lengthAdjust="spacingAndGlyphs">H460</text>
<text x="166.55" y="415.80" font-size="8.0" font-weight="bold" text-anchor="middle" textLength="17.30" lengthAdjust="spacingAndGlyphs">A549</text>
<polyline points="75.00,335.10 75.00,332.30 94.60,332.30 94.60,335.10" fill="none" stroke="#111" stroke-width="0.9"/>
<text x="84.80" y="331.30" font-size="6.6" font-weight="bold" text-anchor="middle" textLength="6.11" lengthAdjust="spacingAndGlyphs">**</text>
<polyline points="83.00,359.10 83.00,356.30 93.80,356.30 93.80,359.10" fill="none" stroke="#111" stroke-width="0.9"/>
<text x="88.40" y="355.30" font-size="6.6" font-weight="bold" text-anchor="middle" textLength="6.11" lengthAdjust="spacingAndGlyphs">**</text>
<polyline points="118.30,313.40 118.30,310.60 137.50,310.60 137.50,313.40" fill="none" stroke="#111" stroke-width="0.9"/>
<text x="127.90" y="309.60" font-size="6.6" font-weight="bold" text-anchor="middle" textLength="6.11" lengthAdjust="spacingAndGlyphs">**</text>
<polyline points="126.30,354.00 126.30,351.20 137.50,351.20 137.50,354.00" fill="none" stroke="#111" stroke-width="0.9"/>
<text x="131.90" y="350.20" font-size="6.6" font-weight="bold" text-anchor="middle" textLength="3.06" lengthAdjust="spacingAndGlyphs">*</text>
<polyline points="161.20,344.70 161.20,341.90 180.40,341.90 180.40,344.70" fill="none" stroke="#111" stroke-width="0.9"/>
<text x="170.80" y="340.90" font-size="6.6" font-weight="bold" text-anchor="middle" textLength="6.11" lengthAdjust="spacingAndGlyphs">**</text>
<polyline points="170.20,363.00 170.20,360.20 180.40,360.20 180.40,363.00" fill="none" stroke="#111" stroke-width="0.9"/>
<text x="175.30" y="359.20" font-size="6.6" font-weight="bold" text-anchor="middle" textLength="6.11" lengthAdjust="spacingAndGlyphs">**</text>
<rect x="143.30" y="284.20" width="8.60" height="5.20" fill="#050505" />
<text x="157.70" y="289.61" font-size="7.8" font-weight="bold" textLength="46.18" lengthAdjust="spacingAndGlyphs">lv5+mimic NC</text>
<rect x="143.30" y="293.50" width="8.60" height="4.50" fill="#0b7a40" />
<text x="157.70" y="298.56" font-size="7.8" font-weight="bold" textLength="83.85" lengthAdjust="spacingAndGlyphs">circSATB2-OE+mimic NC</text>
<rect x="143.30" y="303.50" width="8.60" height="4.80" fill="#0f6a6c" />
<text x="157.70" y="308.71" font-size="7.8" font-weight="bold" textLength="63.34" lengthAdjust="spacingAndGlyphs">lv5+miR-326 mimic</text>
<rect x="143.30" y="314.00" width="8.60" height="4.80" fill="#c0420a" />
<text x="157.70" y="319.21" font-size="7.8" font-weight="bold" textLength="101.00" lengthAdjust="spacingAndGlyphs">circSATB2-OE+miR-326 mimic</text>
<text x="249.60" y="284.20" font-size="20" font-weight="bold" textLength="12.22" lengthAdjust="spacingAndGlyphs">h</text>
<text transform="translate(272.35,335.40) rotate(-90)" font-size="8.2" font-weight="bold" text-anchor="middle" textLength="96.30" lengthAdjust="spacingAndGlyphs">Relative luciferase activity</text>
<line x1="288.00" y1="294.80" x2="288.00" y2="376.60" stroke="#555" stroke-width="1.1"/>
<line x1="286.00" y1="376.20" x2="288.00" y2="376.20" stroke="#555" stroke-width="1.1"/>
<text x="285.40" y="378.36" font-size="6.0" font-weight="bold" text-anchor="end" textLength="8.40" lengthAdjust="spacingAndGlyphs">0.0</text>
<line x1="286.00" y1="349.20" x2="288.00" y2="349.20" stroke="#555" stroke-width="1.1"/>
<text x="285.40" y="351.36" font-size="6.0" font-weight="bold" text-anchor="end" textLength="8.40" lengthAdjust="spacingAndGlyphs">0.5</text>
<line x1="286.00" y1="322.20" x2="288.00" y2="322.20" stroke="#555" stroke-width="1.1"/>
<text x="285.40" y="324.36" font-size="6.0" font-weight="bold" text-anchor="end" textLength="8.40" lengthAdjust="spacingAndGlyphs">1.0</text>
<line x1="286.00" y1="295.20" x2="288.00" y2="295.20" stroke="#555" stroke-width="1.1"/>
<text x="285.40" y="297.36" font-size="6.0" font-weight="bold" text-anchor="end" textLength="8.40" lengthAdjust="spacingAndGlyphs">1.5</text>
<rect x="297.10" y="322.20" width="17.30" height="54.00" fill="#7a3a08" />
<rect x="323.30" y="341.00" width="17.70" height="35.20" fill="#7a3a08" />
<line x1="332.15" y1="338.10" x2="332.15" y2="341.00" stroke="#222" stroke-width="0.9"/>
<line x1="328.65" y1="338.10" x2="335.65" y2="338.10" stroke="#222" stroke-width="0.9"/>
<text x="332.15" y="336.90" font-size="5" font-weight="bold" text-anchor="middle" textLength="4.63" lengthAdjust="spacingAndGlyphs">**</text>
<rect x="350.20" y="325.00" width="17.70" height="51.20" fill="#7a3a08" />
<line x1="359.05" y1="322.30" x2="359.05" y2="325.00" stroke="#222" stroke-width="0.9"/>
<line x1="355.55" y1="322.30" x2="362.55" y2="322.30" stroke="#222" stroke-width="0.9"/>
<rect x="376.90" y="323.70" width="17.30" height="52.50" fill="#7a3a08" />
<line x1="385.55" y1="321.20" x2="385.55" y2="323.70" stroke="#222" stroke-width="0.9"/>
<line x1="382.05" y1="321.20" x2="389.05" y2="321.20" stroke="#222" stroke-width="0.9"/>
<line x1="288.00" y1="376.20" x2="403.50" y2="376.20" stroke="#222" stroke-width="1.0"/>
<line x1="305.60" y1="376.20" x2="305.60" y2="378.20" stroke="#222" stroke-width="1.0"/>
<line x1="332.20" y1="376.20" x2="332.20" y2="378.20" stroke="#222" stroke-width="1.0"/>
<line x1="359.00" y1="376.20" x2="359.00" y2="378.20" stroke="#222" stroke-width="1.0"/>
<line x1="385.60" y1="376.20" x2="385.60" y2="378.20" stroke="#222" stroke-width="1.0"/>
<text x="285.30" y="392.40" font-size="4.6" font-weight="bold" text-anchor="end" textLength="25.25" lengthAdjust="spacingAndGlyphs">mimic NC</text>
<text x="306.30" y="392.40" font-size="5.0" font-weight="bold" text-anchor="middle" textLength="3.47" lengthAdjust="spacingAndGlyphs">+</text>
<text x="332.90" y="392.40" font-size="5.0" font-weight="bold" text-anchor="middle" textLength="1.98" lengthAdjust="spacingAndGlyphs">-</text>
<text x="359.70" y="392.40" font-size="5.0" font-weight="bold" text-anchor="middle" textLength="3.47" lengthAdjust="spacingAndGlyphs">+</text>
<text x="386.30" y="392.40" font-size="5.0" font-weight="bold" text-anchor="middle" textLength="1.98" lengthAdjust="spacingAndGlyphs">-</text>
<text x="285.30" y="404.40" font-size="4.6" font-weight="bold" text-anchor="end" textLength="38.64" lengthAdjust="spacingAndGlyphs">miR-326 mimic</text>
<text x="306.30" y="404.40" font-size="5.0" font-weight="bold" text-anchor="middle" textLength="1.98" lengthAdjust="spacingAndGlyphs">-</text>
<text x="332.90" y="404.40" font-size="5.0" font-weight="bold" text-anchor="middle" textLength="3.47" lengthAdjust="spacingAndGlyphs">+</text>
<text x="359.70" y="404.40" font-size="5.0" font-weight="bold" text-anchor="middle" textLength="1.98" lengthAdjust="spacingAndGlyphs">-</text>
<text x="386.30" y="404.40" font-size="5.0" font-weight="bold" text-anchor="middle" textLength="3.47" lengthAdjust="spacingAndGlyphs">+</text>
<text x="285.30" y="417.80" font-size="4.6" font-weight="bold" text-anchor="end" textLength="45.40" lengthAdjust="spacingAndGlyphs"><tspan font-style="italic">FSCN1</tspan>-3'UTR WT</text>
<text x="306.30" y="417.80" font-size="5.0" font-weight="bold" text-anchor="middle" textLength="3.47" lengthAdjust="spacingAndGlyphs">+</text>
<text x="332.90" y="417.80" font-size="5.0" font-weight="bold" text-anchor="middle" textLength="3.47" lengthAdjust="spacingAndGlyphs">+</text>
<text x="359.70" y="417.80" font-size="5.0" font-weight="bold" text-anchor="middle" textLength="1.98" lengthAdjust="spacingAndGlyphs">-</text>
<text x="386.30" y="417.80" font-size="5.0" font-weight="bold" text-anchor="middle" textLength="1.98" lengthAdjust="spacingAndGlyphs">-</text>
<text x="285.30" y="430.50" font-size="4.6" font-weight="bold" text-anchor="end" textLength="46.61" lengthAdjust="spacingAndGlyphs"><tspan font-style="italic">FSCN1</tspan>-3'UTR Mut</text>
<text x="306.30" y="430.50" font-size="5.0" font-weight="bold" text-anchor="middle" textLength="1.98" lengthAdjust="spacingAndGlyphs">-</text>
<text x="332.90" y="430.50" font-size="5.0" font-weight="bold" text-anchor="middle" textLength="1.98" lengthAdjust="spacingAndGlyphs">-</text>
<text x="359.70" y="430.50" font-size="5.0" font-weight="bold" text-anchor="middle" textLength="3.47" lengthAdjust="spacingAndGlyphs">+</text>
<text x="386.30" y="430.50" font-size="5.0" font-weight="bold" text-anchor="middle" textLength="3.47" lengthAdjust="spacingAndGlyphs">+</text>
<text x="301.20" y="283.30" font-size="5.4" font-weight="bold" textLength="95.50" lengthAdjust="spacingAndGlyphs"><tspan font-weight="normal">miR-326 3' gaccuccuuccc</tspan><tspan font-weight="normal">GGGUCUCc</tspan><tspan font-weight="normal"> 5'</tspan></text>
<g stroke="#777" stroke-width="0.6"><line x1="363.80" y1="286.5" x2="363.80" y2="292"/><line x1="367.40" y1="286.5" x2="367.40" y2="292"/><line x1="371.00" y1="286.5" x2="371.00" y2="292"/><line x1="374.60" y1="286.5" x2="374.60" y2="292"/><line x1="378.20" y1="286.5" x2="378.20" y2="292"/><line x1="381.80" y1="286.5" x2="381.80" y2="292"/><line x1="385.40" y1="286.5" x2="385.40" y2="292"/></g>
<text x="294.2" y="297.7" font-size="5.4" fill="#000" textLength="103.5" lengthAdjust="spacingAndGlyphs"><tspan font-style="italic">FSCN1</tspan> WT 5' uaaaauggaaac<tspan fill="#1030b0">CCCAGAG</tspan>a 3'</text>
<text x="292.9" y="307.7" font-size="5.4" fill="#000" textLength="104.8" lengthAdjust="spacingAndGlyphs"><tspan font-style="italic">FSCN1</tspan> Mut 5' uaaaauggaaac<tspan fill="#b01020">GGGTCTC</tspan>a 3'</text>
<text x="416.50" y="283.60" font-size="20" font-weight="bold" textLength="5.56" lengthAdjust="spacingAndGlyphs">i</text>
<text transform="translate(439.24,337.50) rotate(-90)" font-size="9.0" font-weight="bold" text-anchor="middle" textLength="104.60" lengthAdjust="spacingAndGlyphs">Relative expression level of</text>
<text transform="translate(449.44,337.00) rotate(-90)" font-size="9.0" font-weight="bold" text-anchor="middle" textLength="52.00" lengthAdjust="spacingAndGlyphs"><tspan font-style="italic">FSCN1</tspan> mRNA</text>
<line x1="460.30" y1="295.70" x2="460.30" y2="379.60" stroke="#333" stroke-width="1.1"/>
<line x1="458.30" y1="379.20" x2="460.30" y2="379.20" stroke="#333" stroke-width="1.1"/>
<text x="457.60" y="381.18" font-size="5.5" font-weight="bold" text-anchor="end" textLength="3.64" lengthAdjust="spacingAndGlyphs">0</text>
<line x1="458.30" y1="358.40" x2="460.30" y2="358.40" stroke="#333" stroke-width="1.1"/>
<text x="457.60" y="360.38" font-size="5.5" font-weight="bold" text-anchor="end" textLength="3.64" lengthAdjust="spacingAndGlyphs">1</text>
<line x1="458.30" y1="337.60" x2="460.30" y2="337.60" stroke="#333" stroke-width="1.1"/>
<text x="457.60" y="339.58" font-size="5.5" font-weight="bold" text-anchor="end" textLength="3.64" lengthAdjust="spacingAndGlyphs">2</text>
<line x1="458.30" y1="316.80" x2="460.30" y2="316.80" stroke="#333" stroke-width="1.1"/>
<text x="457.60" y="318.78" font-size="5.5" font-weight="bold" text-anchor="end" textLength="3.64" lengthAdjust="spacingAndGlyphs">3</text>
<line x1="458.30" y1="296.00" x2="460.30" y2="296.00" stroke="#333" stroke-width="1.1"/>
<text x="457.60" y="297.98" font-size="5.5" font-weight="bold" text-anchor="end" textLength="3.64" lengthAdjust="spacingAndGlyphs">4</text>
<rect x="465.10" y="358.40" width="12.70" height="20.80" fill="#050505" />
<text transform="translate(473.05,386.20) rotate(-45)" font-size="7.2" font-weight="bold" text-anchor="end" textLength="31.61" lengthAdjust="spacingAndGlyphs">BEAS-2B</text>
<rect x="482.40" y="354.60" width="10.50" height="24.60" fill="#c0420a" />
<line x1="487.65" y1="351.40" x2="487.65" y2="354.60" stroke="#222" stroke-width="0.9"/>
<line x1="485.02" y1="351.40" x2="490.27" y2="351.40" stroke="#222" stroke-width="0.9"/>
<text transform="translate(489.25,386.20) rotate(-45)" font-size="7.2" font-weight="bold" text-anchor="end" textLength="23.21" lengthAdjust="spacingAndGlyphs">16HBE</text>
<rect x="498.70" y="341.20" width="10.50" height="38.00" fill="#0b7a40" />
<line x1="503.95" y1="337.40" x2="503.95" y2="341.20" stroke="#222" stroke-width="0.9"/>
<line x1="501.32" y1="337.40" x2="506.57" y2="337.40" stroke="#222" stroke-width="0.9"/>
<text x="503.95" y="336.80" font-size="6.0" font-weight="bold" text-anchor="middle" textLength="5.56" lengthAdjust="spacingAndGlyphs">**</text>
<text transform="translate(505.55,386.20) rotate(-45)" font-size="7.2" font-weight="bold" text-anchor="end" textLength="22.01" lengthAdjust="spacingAndGlyphs">MES-1</text>
<rect x="515.20" y="348.90" width="10.50" height="30.30" fill="#06064a" />
<line x1="520.45" y1="346.20" x2="520.45" y2="348.90" stroke="#222" stroke-width="0.9"/>
<line x1="517.83" y1="346.20" x2="523.08" y2="346.20" stroke="#222" stroke-width="0.9"/>
<text x="520.45" y="345.60" font-size="6.0" font-weight="bold" text-anchor="middle" textLength="5.56" lengthAdjust="spacingAndGlyphs">**</text>
<text transform="translate(522.05,386.20) rotate(-45)" font-size="7.2" font-weight="bold" text-anchor="end" textLength="17.21" lengthAdjust="spacingAndGlyphs">H226</text>
<rect x="531.10" y="334.10" width="10.60" height="45.10" fill="#5e5e5e" />
<line x1="536.40" y1="330.30" x2="536.40" y2="334.10" stroke="#222" stroke-width="0.9"/>
<line x1="533.75" y1="330.30" x2="539.05" y2="330.30" stroke="#222" stroke-width="0.9"/>
<text x="536.40" y="329.70" font-size="6.0" font-weight="bold" text-anchor="middle" textLength="5.56" lengthAdjust="spacingAndGlyphs">**</text>
<text transform="translate(538.00,386.20) rotate(-45)" font-size="7.2" font-weight="bold" text-anchor="end" textLength="17.21" lengthAdjust="spacingAndGlyphs">H661</text>
<rect x="547.00" y="343.10" width="11.00" height="36.10" fill="#50064f" />
<line x1="552.50" y1="337.60" x2="552.50" y2="343.10" stroke="#222" stroke-width="0.9"/>
<line x1="549.75" y1="337.60" x2="555.25" y2="337.60" stroke="#222" stroke-width="0.9"/>
<text x="552.50" y="337.00" font-size="6.0" font-weight="bold" text-anchor="middle" textLength="2.78" lengthAdjust="spacingAndGlyphs">*</text>
<text transform="translate(554.10,386.20) rotate(-45)" font-size="7.2" font-weight="bold" text-anchor="end" textLength="17.21" lengthAdjust="spacingAndGlyphs">A549</text>
<rect x="563.40" y="334.10" width="10.50" height="45.10" fill="#333333" />
<line x1="568.65" y1="330.30" x2="568.65" y2="334.10" stroke="#222" stroke-width="0.9"/>
<line x1="566.02" y1="330.30" x2="571.27" y2="330.30" stroke="#222" stroke-width="0.9"/>
<text x="568.65" y="329.70" font-size="6.0" font-weight="bold" text-anchor="middle" textLength="5.56" lengthAdjust="spacingAndGlyphs">**</text>
<text transform="translate(570.25,386.20) rotate(-45)" font-size="7.2" font-weight="bold" text-anchor="end" textLength="17.21" lengthAdjust="spacingAndGlyphs">H460</text>
<rect x="579.50" y="320.70" width="10.70" height="58.50" fill="#0a6662" />
<line x1="584.85" y1="318.40" x2="584.85" y2="320.70" stroke="#222" stroke-width="0.9"/>
<line x1="582.17" y1="318.40" x2="587.53" y2="318.40" stroke="#222" stroke-width="0.9"/>
<text x="584.85" y="317.80" font-size="6.0" font-weight="bold" text-anchor="middle" textLength="5.56" lengthAdjust="spacingAndGlyphs">**</text>
<text transform="translate(586.45,386.20) rotate(-45)" font-size="7.2" font-weight="bold" text-anchor="end" textLength="21.22" lengthAdjust="spacingAndGlyphs">H1299</text>
<line x1="460.30" y1="379.20" x2="595.80" y2="379.20" stroke="#333" stroke-width="1.0"/>
<line x1="471.45" y1="379.20" x2="471.45" y2="381.20" stroke="#333" stroke-width="1.0"/>
<line x1="487.65" y1="379.20" x2="487.65" y2="381.20" stroke="#333" stroke-width="1.0"/>
<line x1="503.95" y1="379.20" x2="503.95" y2="381.20" stroke="#333" stroke-width="1.0"/>
<line x1="520.45" y1="379.20" x2="520.45" y2="381.20" stroke="#333" stroke-width="1.0"/>
<line x1="536.40" y1="379.20" x2="536.40" y2="381.20" stroke="#333" stroke-width="1.0"/>
<line x1="552.50" y1="379.20" x2="552.50" y2="381.20" stroke="#333" stroke-width="1.0"/>
<line x1="568.65" y1="379.20" x2="568.65" y2="381.20" stroke="#333" stroke-width="1.0"/>
<line x1="584.85" y1="379.20" x2="584.85" y2="381.20" stroke="#333" stroke-width="1.0"/>
<text x="17.80" y="463.30" font-size="20" font-weight="bold" textLength="5.56" lengthAdjust="spacingAndGlyphs">j</text>
<text transform="translate(37.63,517.60) rotate(-90)" font-size="9.8" font-weight="bold" text-anchor="middle" textLength="116.50" lengthAdjust="spacingAndGlyphs">Relative expression level</text>
<text transform="translate(49.43,518.20) rotate(-90)" font-size="9.8" font-weight="bold" text-anchor="middle" textLength="75.30" lengthAdjust="spacingAndGlyphs">of <tspan font-style="italic">FSCN1</tspan> mRNA</text>
<line x1="63.50" y1="468.00" x2="63.50" y2="571.10" stroke="#111" stroke-width="1.1"/>
<line x1="61.30" y1="570.60" x2="63.50" y2="570.60" stroke="#111" stroke-width="1.1"/>
<text x="60.00" y="573.90" font-size="9.0" font-weight="bold" text-anchor="end" textLength="5.01" lengthAdjust="spacingAndGlyphs">0</text>
<line x1="61.30" y1="545.05" x2="63.50" y2="545.05" stroke="#111" stroke-width="1.1"/>
<text x="60.00" y="548.35" font-size="9.0" font-weight="bold" text-anchor="end" textLength="5.01" lengthAdjust="spacingAndGlyphs">1</text>
<line x1="61.30" y1="519.50" x2="63.50" y2="519.50" stroke="#111" stroke-width="1.1"/>
<text x="60.00" y="522.80" font-size="9.0" font-weight="bold" text-anchor="end" textLength="5.01" lengthAdjust="spacingAndGlyphs">2</text>
<line x1="61.30" y1="493.95" x2="63.50" y2="493.95" stroke="#111" stroke-width="1.1"/>
<text x="60.00" y="497.25" font-size="9.0" font-weight="bold" text-anchor="end" textLength="5.01" lengthAdjust="spacingAndGlyphs">3</text>
<line x1="61.30" y1="468.40" x2="63.50" y2="468.40" stroke="#111" stroke-width="1.1"/>
<text x="60.00" y="471.70" font-size="9.0" font-weight="bold" text-anchor="end" textLength="5.01" lengthAdjust="spacingAndGlyphs">4</text>
<line x1="63.50" y1="570.60" x2="208.70" y2="570.60" stroke="#111" stroke-width="1.1"/>
<line x1="63.50" y1="570.60" x2="63.50" y2="572.80" stroke="#111" stroke-width="1.1"/>
<text x="63.50" y="583.30" font-size="9.0" font-weight="bold" text-anchor="middle" textLength="5.01" lengthAdjust="spacingAndGlyphs">0</text>
<line x1="111.60" y1="570.60" x2="111.60" y2="572.80" stroke="#111" stroke-width="1.1"/>
<text x="111.60" y="583.30" font-size="9.0" font-weight="bold" text-anchor="middle" textLength="10.01" lengthAdjust="spacingAndGlyphs">10</text>
<line x1="160.20" y1="570.60" x2="160.20" y2="572.80" stroke="#111" stroke-width="1.1"/>
<text x="160.20" y="583.30" font-size="9.0" font-weight="bold" text-anchor="middle" textLength="10.01" lengthAdjust="spacingAndGlyphs">20</text>
<line x1="208.70" y1="570.60" x2="208.70" y2="572.80" stroke="#111" stroke-width="1.1"/>
<text x="208.70" y="583.30" font-size="9.0" font-weight="bold" text-anchor="middle" textLength="10.01" lengthAdjust="spacingAndGlyphs">30</text>
<text x="136.30" y="596.00" font-size="9.4" font-weight="bold" text-anchor="middle" textLength="149.60" lengthAdjust="spacingAndGlyphs">Relative expression of  circSATB2</text>
<text x="90.40" y="474.30" font-size="9.4" font-weight="bold" textLength="40.70" lengthAdjust="spacingAndGlyphs">r =0.8934</text>
<text x="90.40" y="486.00" font-size="9.4" font-weight="bold" textLength="42.60" lengthAdjust="spacingAndGlyphs"><tspan font-weight="normal" font-style="italic">p</tspan> =0.0028</text>
<line x1="68.20" y1="537.00" x2="195.10" y2="496.70" stroke="#111" stroke-width="1"/>
<rect x="66.30" y="543.10" width="3.80" height="3.40" fill="#000" />
<rect x="69.20" y="537.70" width="3.80" height="3.40" fill="#000" />
<rect x="78.60" y="525.30" width="3.80" height="3.40" fill="#000" />
<rect x="86.30" y="531.10" width="3.80" height="3.40" fill="#000" />
<rect x="94.00" y="513.10" width="3.80" height="3.40" fill="#000" />
<rect x="112.80" y="524.00" width="3.80" height="3.40" fill="#000" />
<rect x="142.90" y="516.20" width="3.80" height="3.40" fill="#000" />
<rect x="193.20" y="495.00" width="3.80" height="3.40" fill="#000" />
<text x="229.30" y="463.50" font-size="20" font-weight="bold" textLength="11.12" lengthAdjust="spacingAndGlyphs">k</text>
<text x="281.20" y="473.60" font-size="9.0" font-weight="bold" text-anchor="middle" textLength="13.51" lengthAdjust="spacingAndGlyphs">lv3</text>
<text x="315.90" y="463.10" font-size="9.0" font-weight="bold" text-anchor="middle" textLength="17.29" lengthAdjust="spacingAndGlyphs">circ</text>
<text x="315.90" y="475.70" font-size="9.0" font-weight="bold" text-anchor="middle" textLength="11.34" lengthAdjust="spacingAndGlyphs">sh</text>
<text x="353.70" y="473.60" font-size="9.0" font-weight="bold" text-anchor="middle" textLength="13.51" lengthAdjust="spacingAndGlyphs">lv5</text>
<text x="388.20" y="463.10" font-size="9.0" font-weight="bold" text-anchor="middle" textLength="17.29" lengthAdjust="spacingAndGlyphs">circ</text>
<text x="388.20" y="475.70" font-size="9.0" font-weight="bold" text-anchor="middle" textLength="14.04" lengthAdjust="spacingAndGlyphs">OE</text>
<rect x="262.30" y="481.00" width="145.00" height="16.80" fill="#e2e2e2" stroke="#1a1a1a" stroke-width="1.4"/>
<text x="259.60" y="491.50" font-size="9.2" font-weight="bold" text-anchor="end" textLength="29.40" lengthAdjust="spacingAndGlyphs">FSCN1</text>
<rect x="262.30" y="501.40" width="145.00" height="16.80" fill="#e2e2e2" stroke="#1a1a1a" stroke-width="1.4"/>
<text x="259.60" y="512.50" font-size="9.2" font-weight="bold" text-anchor="end" textLength="33.20" lengthAdjust="spacingAndGlyphs">GAPDH</text>
<rect x="262.30" y="523.50" width="145.00" height="17.00" fill="#e2e2e2" stroke="#1a1a1a" stroke-width="1.4"/>
<text x="259.60" y="534.60" font-size="9.2" font-weight="bold" text-anchor="end" textLength="29.40" lengthAdjust="spacingAndGlyphs">FSCN1</text>
<rect x="262.30" y="543.60" width="145.00" height="17.70" fill="#e2e2e2" stroke="#1a1a1a" stroke-width="1.4"/>
<text x="259.60" y="555.60" font-size="9.2" font-weight="bold" text-anchor="end" textLength="33.20" lengthAdjust="spacingAndGlyphs">GAPDH</text>
<rect x="262.30" y="566.10" width="145.00" height="16.90" fill="#e2e2e2" stroke="#1a1a1a" stroke-width="1.4"/>
<text x="259.60" y="577.70" font-size="9.2" font-weight="bold" text-anchor="end" textLength="29.40" lengthAdjust="spacingAndGlyphs">FSCN1</text>
<rect x="262.30" y="586.10" width="145.00" height="17.40" fill="#e2e2e2" stroke="#1a1a1a" stroke-width="1.4"/>
<text x="259.60" y="598.70" font-size="9.2" font-weight="bold" text-anchor="end" textLength="33.20" lengthAdjust="spacingAndGlyphs">GAPDH</text>
<path d="M266.50,487.40 C267.03,484.39 268.89,483.10 271.81,483.10 C276.82,483.10 276.82,483.70 281.25,483.70 C285.68,483.70 285.68,483.10 290.69,483.10 C293.61,483.10 295.47,484.39 296.00,487.40 C295.47,490.41 293.61,491.70 290.69,491.70 C285.68,491.70 285.68,491.10 281.25,491.10 C276.82,491.10 276.82,491.70 271.81,491.70 C268.89,491.70 267.03,490.41 266.50,487.40Z" fill="#000" opacity="0.95" filter="url(#blur1)"/>
<path d="M305.80,489.60 C306.17,487.64 307.47,486.80 309.51,486.80 C313.01,486.80 313.01,487.19 316.10,487.19 C319.19,487.19 319.19,486.80 322.69,486.80 C324.73,486.80 326.03,487.64 326.40,489.60 C326.03,491.56 324.73,492.40 322.69,492.40 C319.19,492.40 319.19,492.01 316.10,492.01 C313.01,492.01 313.01,492.40 309.51,492.40 C307.47,492.40 306.17,491.56 305.80,489.60Z" fill="#000" opacity="0.85" filter="url(#blur1)"/>
<path d="M334.80,490.40 C335.35,488.16 337.25,487.20 340.25,487.20 C345.41,487.20 345.41,487.65 349.95,487.65 C354.50,487.65 354.50,487.20 359.65,487.20 C362.65,487.20 364.55,488.16 365.10,490.40 C364.55,492.64 362.65,493.60 359.65,493.60 C354.50,493.60 354.50,493.15 349.95,493.15 C345.41,493.15 345.41,493.60 340.25,493.60 C337.25,493.60 335.35,492.64 334.80,490.40Z" fill="#000" opacity="1.00" filter="url(#blur1)"/>
<path d="M370.50,490.00 C371.13,486.99 373.34,485.70 376.82,485.70 C382.79,485.70 382.79,486.30 388.05,486.30 C393.31,486.30 393.31,485.70 399.28,485.70 C402.76,485.70 404.97,486.99 405.60,490.00 C404.97,493.01 402.76,494.30 399.28,494.30 C393.31,494.30 393.31,493.70 388.05,493.70 C382.79,493.70 382.79,494.30 376.82,494.30 C373.34,494.30 371.13,493.01 370.50,490.00Z" fill="#000" opacity="1.00" filter="url(#blur1)"/>
<path d="M265.00,509.40 C265.44,508.21 266.99,507.70 269.42,507.70 C276.20,507.70 276.20,507.94 281.00,507.94 C285.80,507.94 285.80,507.70 292.58,507.70 C295.01,507.70 296.56,508.21 297.00,509.40 C296.56,510.59 295.01,511.10 292.58,511.10 C285.80,511.10 285.80,510.86 281.00,510.86 C276.20,510.86 276.20,511.10 269.42,511.10 C266.99,511.10 265.44,510.59 265.00,509.40Z" fill="#000" opacity="0.95" filter="url(#blur1)"/>
<path d="M299.00,509.40 C299.44,508.21 300.99,507.70 303.42,507.70 C310.55,507.70 310.55,507.94 315.50,507.94 C320.45,507.94 320.45,507.70 327.58,507.70 C330.01,507.70 331.56,508.21 332.00,509.40 C331.56,510.59 330.01,511.10 327.58,511.10 C320.45,511.10 320.45,510.86 315.50,510.86 C310.55,510.86 310.55,511.10 303.42,511.10 C300.99,511.10 299.44,510.59 299.00,509.40Z" fill="#000" opacity="0.95" filter="url(#blur1)"/>
<path d="M334.00,509.40 C334.44,508.21 335.99,507.70 338.42,507.70 C345.20,507.70 345.20,507.94 350.00,507.94 C354.80,507.94 354.80,507.70 361.58,507.70 C364.01,507.70 365.56,508.21 366.00,509.40 C365.56,510.59 364.01,511.10 361.58,511.10 C354.80,511.10 354.80,510.86 350.00,510.86 C345.20,510.86 345.20,511.10 338.42,511.10 C335.99,511.10 334.44,510.59 334.00,509.40Z" fill="#000" opacity="0.95" filter="url(#blur1)"/>
<path d="M368.00,509.40 C368.44,508.21 369.99,507.70 372.42,507.70 C379.55,507.70 379.55,507.94 384.50,507.94 C389.45,507.94 389.45,507.70 396.58,507.70 C399.01,507.70 400.56,508.21 401.00,509.40 C400.56,510.59 399.01,511.10 396.58,511.10 C389.45,511.10 389.45,510.86 384.50,510.86 C379.55,510.86 379.55,511.10 372.42,511.10 C369.99,511.10 368.44,510.59 368.00,509.40Z" fill="#000" opacity="0.95" filter="url(#blur1)"/>
<path d="M266.00,531.00 C266.58,529.04 268.59,528.20 271.76,528.20 C277.20,528.20 277.20,528.59 282.00,528.59 C286.80,528.59 286.80,528.20 292.24,528.20 C295.41,528.20 297.42,529.04 298.00,531.00 C297.42,532.96 295.41,533.80 292.24,533.80 C286.80,533.80 286.80,533.41 282.00,533.41 C277.20,533.41 277.20,533.80 271.76,533.80 C268.59,533.80 266.58,532.96 266.00,531.00Z" fill="#000" opacity="1.00" filter="url(#blur1)"/>
<path d="M303.00,531.50 C303.43,530.03 304.94,529.40 307.32,529.40 C311.40,529.40 311.40,529.69 315.00,529.69 C318.60,529.69 318.60,529.40 322.68,529.40 C325.06,529.40 326.57,530.03 327.00,531.50 C326.57,532.97 325.06,533.60 322.68,533.60 C318.60,533.60 318.60,533.31 315.00,533.31 C311.40,533.31 311.40,533.60 307.32,533.60 C304.94,533.60 303.43,532.97 303.00,531.50Z" fill="#000" opacity="1.00" filter="url(#blur1)"/>
<path d="M334.80,531.30 C335.35,529.48 337.25,528.70 340.25,528.70 C345.41,528.70 345.41,529.06 349.95,529.06 C354.50,529.06 354.50,528.70 359.65,528.70 C362.65,528.70 364.55,529.48 365.10,531.30 C364.55,533.12 362.65,533.90 359.65,533.90 C354.50,533.90 354.50,533.54 349.95,533.54 C345.41,533.54 345.41,533.90 340.25,533.90 C337.25,533.90 335.35,533.12 334.80,531.30Z" fill="#000" opacity="1.00" filter="url(#blur1)"/>
<path d="M370.50,531.30 C371.11,528.50 373.25,527.30 376.62,527.30 C382.40,527.30 382.40,527.86 387.50,527.86 C392.60,527.86 392.60,527.30 398.38,527.30 C401.75,527.30 403.89,528.50 404.50,531.30 C403.89,534.10 401.75,535.30 398.38,535.30 C392.60,535.30 392.60,534.74 387.50,534.74 C382.40,534.74 382.40,535.30 376.62,535.30 C373.25,535.30 371.11,534.10 370.50,531.30Z" fill="#000" opacity="1.00" filter="url(#blur1)"/>
<path d="M268.00,551.20 C268.54,549.52 270.43,548.80 273.40,548.80 C278.50,548.80 278.50,549.14 283.00,549.14 C287.50,549.14 287.50,548.80 292.60,548.80 C295.57,548.80 297.46,549.52 298.00,551.20 C297.46,552.88 295.57,553.60 292.60,553.60 C287.50,553.60 287.50,553.26 283.00,553.26 C278.50,553.26 278.50,553.60 273.40,553.60 C270.43,553.60 268.54,552.88 268.00,551.20Z" fill="#000" opacity="1.00" filter="url(#blur1)"/>
<path d="M300.00,551.20 C300.58,549.52 302.59,548.80 305.76,548.80 C311.20,548.80 311.20,549.14 316.00,549.14 C320.80,549.14 320.80,548.80 326.24,548.80 C329.41,548.80 331.42,549.52 332.00,551.20 C331.42,552.88 329.41,553.60 326.24,553.60 C320.80,553.60 320.80,553.26 316.00,553.26 C311.20,553.26 311.20,553.60 305.76,553.60 C302.59,553.60 300.58,552.88 300.00,551.20Z" fill="#000" opacity="1.00" filter="url(#blur1)"/>
<path d="M336.00,551.20 C336.58,549.52 338.59,548.80 341.76,548.80 C347.20,548.80 347.20,549.14 352.00,549.14 C356.80,549.14 356.80,548.80 362.24,548.80 C365.41,548.80 367.42,549.52 368.00,551.20 C367.42,552.88 365.41,553.60 362.24,553.60 C356.80,553.60 356.80,553.26 352.00,553.26 C347.20,553.26 347.20,553.60 341.76,553.60 C338.59,553.60 336.58,552.88 336.00,551.20Z" fill="#000" opacity="1.00" filter="url(#blur1)"/>
<path d="M373.00,551.20 C373.56,549.52 375.51,548.80 378.58,548.80 C383.85,548.80 383.85,549.14 388.50,549.14 C393.15,549.14 393.15,548.80 398.42,548.80 C401.49,548.80 403.44,549.52 404.00,551.20 C403.44,552.88 401.49,553.60 398.42,553.60 C393.15,553.60 393.15,553.26 388.50,553.26 C383.85,553.26 383.85,553.60 378.58,553.60 C375.51,553.60 373.56,552.88 373.00,551.20Z" fill="#000" opacity="1.00" filter="url(#blur1)"/>
<path d="M265.00,574.50 C265.58,572.75 267.59,572.00 270.76,572.00 C276.20,572.00 276.20,572.35 281.00,572.35 C285.80,572.35 285.80,572.00 291.24,572.00 C294.41,572.00 296.42,572.75 297.00,574.50 C296.42,576.25 294.41,577.00 291.24,577.00 C285.80,577.00 285.80,576.65 281.00,576.65 C276.20,576.65 276.20,577.00 270.76,577.00 C267.59,577.00 265.58,576.25 265.00,574.50Z" fill="#000" opacity="1.00" filter="url(#blur1)"/>
<path d="M300.00,574.80 C300.58,573.19 302.59,572.50 305.76,572.50 C311.20,572.50 311.20,572.82 316.00,572.82 C320.80,572.82 320.80,572.50 326.24,572.50 C329.41,572.50 331.42,573.19 332.00,574.80 C331.42,576.41 329.41,577.10 326.24,577.10 C320.80,577.10 320.80,576.78 316.00,576.78 C311.20,576.78 311.20,577.10 305.76,577.10 C302.59,577.10 300.58,576.41 300.00,574.80Z" fill="#000" opacity="1.00" filter="url(#blur1)"/>
<path d="M334.80,574.50 C335.38,572.75 337.41,572.00 340.60,572.00 C346.07,572.00 346.07,572.35 350.90,572.35 C355.73,572.35 355.73,572.00 361.20,572.00 C364.39,572.00 366.42,572.75 367.00,574.50 C366.42,576.25 364.39,577.00 361.20,577.00 C355.73,577.00 355.73,576.65 350.90,576.65 C346.07,576.65 346.07,577.00 340.60,577.00 C337.41,577.00 335.38,576.25 334.80,574.50Z" fill="#000" opacity="1.00" filter="url(#blur1)"/>
<path d="M370.50,574.10 C371.11,571.58 373.25,570.50 376.62,570.50 C382.40,570.50 382.40,571.00 387.50,571.00 C392.60,571.00 392.60,570.50 398.38,570.50 C401.75,570.50 403.89,571.58 404.50,574.10 C403.89,576.62 401.75,577.70 398.38,577.70 C392.60,577.70 392.60,577.20 387.50,577.20 C382.40,577.20 382.40,577.70 376.62,577.70 C373.25,577.70 371.11,576.62 370.50,574.10Z" fill="#000" opacity="1.00" filter="url(#blur1)"/>
<path d="M265.00,594.80 C265.48,593.50 267.16,592.95 269.81,592.95 C276.20,592.95 276.20,593.21 281.00,593.21 C285.80,593.21 285.80,592.95 292.19,592.95 C294.84,592.95 296.52,593.50 297.00,594.80 C296.52,596.09 294.84,596.65 292.19,596.65 C285.80,596.65 285.80,596.39 281.00,596.39 C276.20,596.39 276.20,596.65 269.81,596.65 C267.16,596.65 265.48,596.09 265.00,594.80Z" fill="#000" opacity="1.00" filter="url(#blur1)"/>
<path d="M299.00,594.80 C299.48,593.50 301.16,592.95 303.81,592.95 C310.55,592.95 310.55,593.21 315.50,593.21 C320.45,593.21 320.45,592.95 327.19,592.95 C329.84,592.95 331.52,593.50 332.00,594.80 C331.52,596.09 329.84,596.65 327.19,596.65 C320.45,596.65 320.45,596.39 315.50,596.39 C310.55,596.39 310.55,596.65 303.81,596.65 C301.16,596.65 299.48,596.09 299.00,594.80Z" fill="#000" opacity="1.00" filter="url(#blur1)"/>
<path d="M334.00,594.80 C334.48,593.50 336.16,592.95 338.81,592.95 C345.20,592.95 345.20,593.21 350.00,593.21 C354.80,593.21 354.80,592.95 361.19,592.95 C363.84,592.95 365.52,593.50 366.00,594.80 C365.52,596.09 363.84,596.65 361.19,596.65 C354.80,596.65 354.80,596.39 350.00,596.39 C345.20,596.39 345.20,596.65 338.81,596.65 C336.16,596.65 334.48,596.09 334.00,594.80Z" fill="#000" opacity="1.00" filter="url(#blur1)"/>
<path d="M370.00,594.80 C370.48,593.50 372.16,592.95 374.81,592.95 C381.90,592.95 381.90,593.21 387.00,593.21 C392.10,593.21 392.10,592.95 399.19,592.95 C401.84,592.95 403.52,593.50 404.00,594.80 C403.52,596.09 401.84,596.65 399.19,596.65 C392.10,596.65 392.10,596.39 387.00,596.39 C381.90,596.39 381.90,596.65 374.81,596.65 C372.16,596.65 370.48,596.09 370.00,594.80Z" fill="#000" opacity="1.00" filter="url(#blur1)"/>
<text transform="translate(409.40,498.40) rotate(90)" font-size="9.8" font-weight="bold" text-anchor="middle" textLength="22.10" lengthAdjust="spacingAndGlyphs">H460</text>
<text transform="translate(409.40,541.50) rotate(90)" font-size="9.8" font-weight="bold" text-anchor="middle" textLength="22.10" lengthAdjust="spacingAndGlyphs">A549</text>
<text transform="translate(409.40,584.00) rotate(90)" font-size="9.8" font-weight="bold" text-anchor="middle" textLength="27.40" lengthAdjust="spacingAndGlyphs">H1299</text>
<text x="437.00" y="462.70" font-size="20" font-weight="bold" textLength="5.56" lengthAdjust="spacingAndGlyphs">l</text>
<text transform="translate(443.24,544.60) rotate(-90)" font-size="9.0" font-weight="bold" text-anchor="middle" textLength="106.00" lengthAdjust="spacingAndGlyphs">Relative expression level</text>
<text transform="translate(454.74,544.10) rotate(-90)" font-size="9.0" font-weight="bold" text-anchor="middle" textLength="73.60" lengthAdjust="spacingAndGlyphs">of FSCN1 protein</text>
<line x1="474.70" y1="502.70" x2="474.70" y2="588.00" stroke="#111" stroke-width="1.1"/>
<line x1="472.70" y1="587.60" x2="474.70" y2="587.60" stroke="#111" stroke-width="1.1"/>
<text x="470.40" y="590.30" font-size="7.5" font-weight="bold" text-anchor="end" textLength="10.60" lengthAdjust="spacingAndGlyphs">0.0</text>
<line x1="472.70" y1="566.50" x2="474.70" y2="566.50" stroke="#111" stroke-width="1.1"/>
<text x="470.40" y="569.20" font-size="7.5" font-weight="bold" text-anchor="end" textLength="10.60" lengthAdjust="spacingAndGlyphs">0.5</text>
<line x1="472.70" y1="545.40" x2="474.70" y2="545.40" stroke="#111" stroke-width="1.1"/>
<text x="470.40" y="548.10" font-size="7.5" font-weight="bold" text-anchor="end" textLength="10.60" lengthAdjust="spacingAndGlyphs">1.0</text>
<line x1="472.70" y1="524.30" x2="474.70" y2="524.30" stroke="#111" stroke-width="1.1"/>
<text x="470.40" y="527.00" font-size="7.5" font-weight="bold" text-anchor="end" textLength="10.60" lengthAdjust="spacingAndGlyphs">1.5</text>
<line x1="472.70" y1="503.20" x2="474.70" y2="503.20" stroke="#111" stroke-width="1.1"/>
<text x="470.40" y="505.90" font-size="7.5" font-weight="bold" text-anchor="end" textLength="10.60" lengthAdjust="spacingAndGlyphs">2.0</text>
<rect x="478.30" y="545.40" width="6.50" height="42.20" fill="#050505" />
<rect x="487.30" y="564.50" width="6.70" height="23.10" fill="#0b7a40" />
<line x1="490.65" y1="561.00" x2="490.65" y2="564.50" stroke="#222" stroke-width="0.9"/>
<line x1="488.97" y1="561.00" x2="492.32" y2="561.00" stroke="#222" stroke-width="0.9"/>
<text x="490.65" y="560.40" font-size="5.6" font-weight="bold" text-anchor="middle" textLength="5.19" lengthAdjust="spacingAndGlyphs">**</text>
<rect x="495.70" y="545.40" width="6.90" height="42.20" fill="#06064a" />
<rect x="504.50" y="519.90" width="7.40" height="67.70" fill="#c0420a" />
<line x1="508.20" y1="513.20" x2="508.20" y2="519.90" stroke="#222" stroke-width="0.9"/>
<line x1="506.35" y1="513.20" x2="510.05" y2="513.20" stroke="#222" stroke-width="0.9"/>
<text x="508.20" y="512.60" font-size="5.6" font-weight="bold" text-anchor="middle" textLength="7.41" lengthAdjust="spacingAndGlyphs">##</text>
<rect x="521.00" y="545.40" width="7.10" height="42.20" fill="#050505" />
<rect x="529.80" y="564.10" width="6.90" height="23.50" fill="#0b7a40" />
<line x1="533.25" y1="559.90" x2="533.25" y2="564.10" stroke="#222" stroke-width="0.9"/>
<line x1="531.52" y1="559.90" x2="534.98" y2="559.90" stroke="#222" stroke-width="0.9"/>
<text x="533.25" y="559.30" font-size="5.6" font-weight="bold" text-anchor="middle" textLength="5.19" lengthAdjust="spacingAndGlyphs">**</text>
<rect x="538.20" y="545.40" width="7.30" height="42.20" fill="#06064a" />
<rect x="547.00" y="517.80" width="7.40" height="69.80" fill="#c0420a" />
<line x1="550.70" y1="513.60" x2="550.70" y2="517.80" stroke="#222" stroke-width="0.9"/>
<line x1="548.85" y1="513.60" x2="552.55" y2="513.60" stroke="#222" stroke-width="0.9"/>
<text x="550.70" y="513.00" font-size="5.6" font-weight="bold" text-anchor="middle" textLength="7.41" lengthAdjust="spacingAndGlyphs">##</text>
<rect x="563.00" y="545.40" width="7.40" height="42.20" fill="#050505" />
<rect x="571.80" y="569.80" width="7.40" height="17.80" fill="#0b7a40" />
<line x1="575.50" y1="565.60" x2="575.50" y2="569.80" stroke="#222" stroke-width="0.9"/>
<line x1="573.65" y1="565.60" x2="577.35" y2="565.60" stroke="#222" stroke-width="0.9"/>
<text x="575.50" y="565.00" font-size="5.6" font-weight="bold" text-anchor="middle" textLength="5.19" lengthAdjust="spacingAndGlyphs">**</text>
<rect x="580.90" y="545.40" width="7.10" height="42.20" fill="#06064a" />
<rect x="589.70" y="522.40" width="7.40" height="65.20" fill="#c0420a" />
<line x1="593.40" y1="515.30" x2="593.40" y2="522.40" stroke="#222" stroke-width="0.9"/>
<line x1="591.55" y1="515.30" x2="595.25" y2="515.30" stroke="#222" stroke-width="0.9"/>
<text x="593.40" y="514.70" font-size="5.6" font-weight="bold" text-anchor="middle" textLength="7.41" lengthAdjust="spacingAndGlyphs">##</text>
<line x1="474.70" y1="587.60" x2="600.60" y2="587.60" stroke="#777" stroke-width="1.0"/>
<line x1="495.20" y1="587.60" x2="495.20" y2="589.60" stroke="#777" stroke-width="1.0"/>
<line x1="537.70" y1="587.60" x2="537.70" y2="589.60" stroke="#777" stroke-width="1.0"/>
<line x1="580.10" y1="587.60" x2="580.10" y2="589.60" stroke="#777" stroke-width="1.0"/>
<text x="494.70" y="601.20" font-size="8.0" font-weight="bold" text-anchor="middle" textLength="18.90" lengthAdjust="spacingAndGlyphs">H460</text>
<text x="537.50" y="601.20" font-size="8.0" font-weight="bold" text-anchor="middle" textLength="19.50" lengthAdjust="spacingAndGlyphs">A549</text>
<text x="579.90" y="601.20" font-size="8.0" font-weight="bold" text-anchor="middle" textLength="24.60" lengthAdjust="spacingAndGlyphs">H1299</text>
<rect x="535.00" y="474.70" width="10.10" height="5.90" fill="#050505" />
<text x="549.30" y="480.31" font-size="7.4" font-weight="bold" textLength="11.45" lengthAdjust="spacingAndGlyphs">lv3</text>
<rect x="535.00" y="482.00" width="10.10" height="6.00" fill="#0b7a40" />
<text x="549.30" y="487.66" font-size="7.4" font-weight="bold" textLength="53.41" lengthAdjust="spacingAndGlyphs">circSATB2-sh</text>
<rect x="535.00" y="489.80" width="10.10" height="5.90" fill="#06064a" />
<text x="549.30" y="495.41" font-size="7.4" font-weight="bold" textLength="11.45" lengthAdjust="spacingAndGlyphs">lv5</text>
<rect x="535.00" y="497.40" width="10.10" height="5.70" fill="#c0420a" />
<text x="549.30" y="502.91" font-size="7.4" font-weight="bold" textLength="55.70" lengthAdjust="spacingAndGlyphs">circSATB2-OE</text>
<text x="15.30" y="634.10" font-size="20" font-weight="bold" textLength="17.78" lengthAdjust="spacingAndGlyphs">m</text>
<text x="66.50" y="636.40" font-size="8.5" font-weight="bold" text-anchor="middle" textLength="35.69" lengthAdjust="spacingAndGlyphs">inhibitor</text>
<text x="66.50" y="647.00" font-size="8.5" font-weight="bold" text-anchor="middle" textLength="12.89" lengthAdjust="spacingAndGlyphs">NC</text>
<text x="102.60" y="644.70" font-size="8.5" font-weight="bold" text-anchor="middle" textLength="35.69" lengthAdjust="spacingAndGlyphs">inhibitor</text>
<text x="138.40" y="636.50" font-size="8.5" font-weight="bold" text-anchor="middle" textLength="25.79" lengthAdjust="spacingAndGlyphs">mimic</text>
<text x="138.40" y="647.00" font-size="8.5" font-weight="bold" text-anchor="middle" textLength="12.89" lengthAdjust="spacingAndGlyphs">NC</text>
<text x="173.60" y="644.20" font-size="8.5" font-weight="bold" text-anchor="middle" textLength="25.79" lengthAdjust="spacingAndGlyphs">mimic</text>
<rect x="47.50" y="648.90" width="145.00" height="16.90" fill="#e2e2e2" stroke="#1a1a1a" stroke-width="1.4"/>
<text x="44.20" y="665.40" font-size="9.2" font-weight="bold" text-anchor="end" textLength="28.90" lengthAdjust="spacingAndGlyphs">FSCN1</text>
<rect x="47.50" y="669.30" width="145.00" height="17.20" fill="#e2e2e2" stroke="#1a1a1a" stroke-width="1.4"/>
<text x="44.20" y="681.80" font-size="9.2" font-weight="bold" text-anchor="end" textLength="32.90" lengthAdjust="spacingAndGlyphs">GAPDH</text>
<rect x="47.50" y="691.70" width="145.00" height="16.90" fill="#e2e2e2" stroke="#1a1a1a" stroke-width="1.4"/>
<text x="44.20" y="703.40" font-size="9.2" font-weight="bold" text-anchor="end" textLength="28.90" lengthAdjust="spacingAndGlyphs">FSCN1</text>
<rect x="47.50" y="711.70" width="145.00" height="17.10" fill="#e2e2e2" stroke="#1a1a1a" stroke-width="1.4"/>
<text x="44.20" y="723.40" font-size="9.2" font-weight="bold" text-anchor="end" textLength="32.90" lengthAdjust="spacingAndGlyphs">GAPDH</text>
<rect x="47.50" y="734.50" width="145.00" height="16.70" fill="#e2e2e2" stroke="#1a1a1a" stroke-width="1.4"/>
<text x="44.20" y="745.70" font-size="9.2" font-weight="bold" text-anchor="end" textLength="28.90" lengthAdjust="spacingAndGlyphs">FSCN1</text>
<rect x="47.50" y="754.40" width="145.00" height="17.20" fill="#e2e2e2" stroke="#1a1a1a" stroke-width="1.4"/>
<text x="44.20" y="765.70" font-size="9.2" font-weight="bold" text-anchor="end" textLength="32.90" lengthAdjust="spacingAndGlyphs">GAPDH</text>
<path d="M51.70,657.00 C52.22,653.85 54.04,652.50 56.90,652.50 C61.81,652.50 61.81,653.13 66.15,653.13 C70.48,653.13 70.48,652.50 75.40,652.50 C78.26,652.50 80.08,653.85 80.60,657.00 C80.08,660.15 78.26,661.50 75.40,661.50 C70.48,661.50 70.48,660.87 66.15,660.87 C61.81,660.87 61.81,661.50 56.90,661.50 C54.04,661.50 52.22,660.15 51.70,657.00Z" fill="#000" opacity="1.00" filter="url(#blur1)"/>
<path d="M88.00,657.40 C88.58,653.55 90.59,651.90 93.76,651.90 C99.20,651.90 99.20,652.67 104.00,652.67 C108.80,652.67 108.80,651.90 114.24,651.90 C117.41,651.90 119.42,653.55 120.00,657.40 C119.42,661.25 117.41,662.90 114.24,662.90 C108.80,662.90 108.80,662.13 104.00,662.13 C99.20,662.13 99.20,662.90 93.76,662.90 C90.59,662.90 88.58,661.25 88.00,657.40Z" fill="#000" opacity="1.00" filter="url(#blur1)"/>
<path d="M127.00,657.20 C127.50,654.30 129.24,653.05 131.97,653.05 C136.66,653.05 136.66,653.63 140.80,653.63 C144.94,653.63 144.94,653.05 149.63,653.05 C152.36,653.05 154.10,654.30 154.60,657.20 C154.10,660.11 152.36,661.35 149.63,661.35 C144.94,661.35 144.94,660.77 140.80,660.77 C136.66,660.77 136.66,661.35 131.97,661.35 C129.24,661.35 127.50,660.11 127.00,657.20Z" fill="#000" opacity="1.00" filter="url(#blur1)"/>
<path d="M164.70,657.30 C165.15,655.27 166.74,654.40 169.24,654.40 C173.52,654.40 173.52,654.81 177.30,654.81 C181.08,654.81 181.08,654.40 185.36,654.40 C187.86,654.40 189.45,655.27 189.90,657.30 C189.45,659.33 187.86,660.20 185.36,660.20 C181.08,660.20 181.08,659.79 177.30,659.79 C173.52,659.79 173.52,660.20 169.24,660.20 C166.74,660.20 165.15,659.33 164.70,657.30Z" fill="#000" opacity="0.90" filter="url(#blur1)"/>
<path d="M51.00,677.40 C51.56,675.72 53.51,675.00 56.58,675.00 C61.85,675.00 61.85,675.34 66.50,675.34 C71.15,675.34 71.15,675.00 76.42,675.00 C79.49,675.00 81.44,675.72 82.00,677.40 C81.44,679.08 79.49,679.80 76.42,679.80 C71.15,679.80 71.15,679.46 66.50,679.46 C61.85,679.46 61.85,679.80 56.58,679.80 C53.51,679.80 51.56,679.08 51.00,677.40Z" fill="#000" opacity="1.00" filter="url(#blur1)"/>
<path d="M88.00,677.40 C88.50,675.72 90.27,675.00 93.04,675.00 C97.80,675.00 97.80,675.34 102.00,675.34 C106.20,675.34 106.20,675.00 110.96,675.00 C113.73,675.00 115.50,675.72 116.00,677.40 C115.50,679.08 113.73,679.80 110.96,679.80 C106.20,679.80 106.20,679.46 102.00,679.46 C97.80,679.46 97.80,679.80 93.04,679.80 C90.27,679.80 88.50,679.08 88.00,677.40Z" fill="#000" opacity="1.00" filter="url(#blur1)"/>
<path d="M122.00,677.40 C122.54,675.72 124.43,675.00 127.40,675.00 C132.50,675.00 132.50,675.34 137.00,675.34 C141.50,675.34 141.50,675.00 146.60,675.00 C149.57,675.00 151.46,675.72 152.00,677.40 C151.46,679.08 149.57,679.80 146.60,679.80 C141.50,679.80 141.50,679.46 137.00,679.46 C132.50,679.46 132.50,679.80 127.40,679.80 C124.43,679.80 122.54,679.08 122.00,677.40Z" fill="#000" opacity="1.00" filter="url(#blur1)"/>
<path d="M158.00,677.40 C158.54,675.72 160.43,675.00 163.40,675.00 C168.50,675.00 168.50,675.34 173.00,675.34 C177.50,675.34 177.50,675.00 182.60,675.00 C185.57,675.00 187.46,675.72 188.00,677.40 C187.46,679.08 185.57,679.80 182.60,679.80 C177.50,679.80 177.50,679.46 173.00,679.46 C168.50,679.46 168.50,679.80 163.40,679.80 C160.43,679.80 158.54,679.08 158.00,677.40Z" fill="#000" opacity="1.00" filter="url(#blur1)"/>
<path d="M51.00,700.30 C51.52,697.22 53.35,695.90 56.22,695.90 C61.15,695.90 61.15,696.52 65.50,696.52 C69.85,696.52 69.85,695.90 74.78,695.90 C77.65,695.90 79.48,697.22 80.00,700.30 C79.48,703.38 77.65,704.70 74.78,704.70 C69.85,704.70 69.85,704.08 65.50,704.08 C61.15,704.08 61.15,704.70 56.22,704.70 C53.35,704.70 51.52,703.38 51.00,700.30Z" fill="#000" opacity="1.00" filter="url(#blur1)"/>
<path d="M86.00,700.60 C86.59,697.00 88.67,695.45 91.94,695.45 C97.55,695.45 97.55,696.17 102.50,696.17 C107.45,696.17 107.45,695.45 113.06,695.45 C116.33,695.45 118.41,697.00 119.00,700.60 C118.41,704.21 116.33,705.75 113.06,705.75 C107.45,705.75 107.45,705.03 102.50,705.03 C97.55,705.03 97.55,705.75 91.94,705.75 C88.67,705.75 86.59,704.21 86.00,700.60Z" fill="#000" opacity="1.00" filter="url(#blur1)"/>
<path d="M125.00,700.30 C125.52,697.39 127.35,696.15 130.22,696.15 C135.15,696.15 135.15,696.73 139.50,696.73 C143.85,696.73 143.85,696.15 148.78,696.15 C151.65,696.15 153.48,697.39 154.00,700.30 C153.48,703.20 151.65,704.45 148.78,704.45 C143.85,704.45 143.85,703.87 139.50,703.87 C135.15,703.87 135.15,704.45 130.22,704.45 C127.35,704.45 125.52,703.20 125.00,700.30Z" fill="#000" opacity="1.00" filter="url(#blur1)"/>
<path d="M160.00,699.30 C160.47,697.09 162.11,696.15 164.68,696.15 C169.10,696.15 169.10,696.59 173.00,696.59 C176.90,696.59 176.90,696.15 181.32,696.15 C183.89,696.15 185.53,697.09 186.00,699.30 C185.53,701.50 183.89,702.45 181.32,702.45 C176.90,702.45 176.90,702.01 173.00,702.01 C169.10,702.01 169.10,702.45 164.68,702.45 C162.11,702.45 160.47,701.50 160.00,699.30Z" fill="#000" opacity="1.00" filter="url(#blur1)"/>
<path d="M52.00,720.50 C52.54,718.40 54.43,717.50 57.40,717.50 C62.50,717.50 62.50,717.92 67.00,717.92 C71.50,717.92 71.50,717.50 76.60,717.50 C79.57,717.50 81.46,718.40 82.00,720.50 C81.46,722.60 79.57,723.50 76.60,723.50 C71.50,723.50 71.50,723.08 67.00,723.08 C62.50,723.08 62.50,723.50 57.40,723.50 C54.43,723.50 52.54,722.60 52.00,720.50Z" fill="#000" opacity="1.00" filter="url(#blur1)"/>
<path d="M87.00,720.50 C87.52,718.40 89.35,717.50 92.22,717.50 C97.15,717.50 97.15,717.92 101.50,717.92 C105.85,717.92 105.85,717.50 110.78,717.50 C113.65,717.50 115.48,718.40 116.00,720.50 C115.48,722.60 113.65,723.50 110.78,723.50 C105.85,723.50 105.85,723.08 101.50,723.08 C97.15,723.08 97.15,723.50 92.22,723.50 C89.35,723.50 87.52,722.60 87.00,720.50Z" fill="#000" opacity="1.00" filter="url(#blur1)"/>
<path d="M120.00,720.50 C120.52,718.40 122.35,717.50 125.22,717.50 C130.15,717.50 130.15,717.92 134.50,717.92 C138.85,717.92 138.85,717.50 143.78,717.50 C146.65,717.50 148.48,718.40 149.00,720.50 C148.48,722.60 146.65,723.50 143.78,723.50 C138.85,723.50 138.85,723.08 134.50,723.08 C130.15,723.08 130.15,723.50 125.22,723.50 C122.35,723.50 120.52,722.60 120.00,720.50Z" fill="#000" opacity="1.00" filter="url(#blur1)"/>
<path d="M154.00,720.50 C154.59,718.40 156.67,717.50 159.94,717.50 C165.55,717.50 165.55,717.92 170.50,717.92 C175.45,717.92 175.45,717.50 181.06,717.50 C184.33,717.50 186.41,718.40 187.00,720.50 C186.41,722.60 184.33,723.50 181.06,723.50 C175.45,723.50 175.45,723.08 170.50,723.08 C165.55,723.08 165.55,723.50 159.94,723.50 C156.67,723.50 154.59,722.60 154.00,720.50Z" fill="#000" opacity="1.00" filter="url(#blur1)"/>
<path d="M50.00,742.60 C50.54,740.05 52.43,738.95 55.40,738.95 C60.50,738.95 60.50,739.46 65.00,739.46 C69.50,739.46 69.50,738.95 74.60,738.95 C77.57,738.95 79.46,740.05 80.00,742.60 C79.46,745.15 77.57,746.25 74.60,746.25 C69.50,746.25 69.50,745.74 65.00,745.74 C60.50,745.74 60.50,746.25 55.40,746.25 C52.43,746.25 50.54,745.15 50.00,742.60Z" fill="#000" opacity="1.00" filter="url(#blur1)"/>
<path d="M84.00,741.60 C84.65,739.39 86.92,738.45 90.48,738.45 C96.60,738.45 96.60,738.89 102.00,738.89 C107.40,738.89 107.40,738.45 113.52,738.45 C117.08,738.45 119.35,739.39 120.00,741.60 C119.35,743.81 117.08,744.75 113.52,744.75 C107.40,744.75 107.40,744.31 102.00,744.31 C96.60,744.31 96.60,744.75 90.48,744.75 C86.92,744.75 84.65,743.81 84.00,741.60Z" fill="#000" opacity="1.00" filter="url(#blur1)"/>
<path d="M125.00,742.80 C125.54,740.42 127.43,739.40 130.40,739.40 C135.50,739.40 135.50,739.88 140.00,739.88 C144.50,739.88 144.50,739.40 149.60,739.40 C152.57,739.40 154.46,740.42 155.00,742.80 C154.46,745.18 152.57,746.20 149.60,746.20 C144.50,746.20 144.50,745.72 140.00,745.72 C135.50,745.72 135.50,746.20 130.40,746.20 C127.43,746.20 125.54,745.18 125.00,742.80Z" fill="#000" opacity="1.00" filter="url(#blur1)"/>
<path d="M160.00,743.30 C160.54,741.20 162.43,740.30 165.40,740.30 C170.50,740.30 170.50,740.72 175.00,740.72 C179.50,740.72 179.50,740.30 184.60,740.30 C187.57,740.30 189.46,741.20 190.00,743.30 C189.46,745.40 187.57,746.30 184.60,746.30 C179.50,746.30 179.50,745.88 175.00,745.88 C170.50,745.88 170.50,746.30 165.40,746.30 C162.43,746.30 160.54,745.40 160.00,743.30Z" fill="#000" opacity="0.95" filter="url(#blur1)"/>
<path d="M53.00,763.30 C53.49,761.34 55.19,760.50 57.86,760.50 C62.45,760.50 62.45,760.89 66.50,760.89 C70.55,760.89 70.55,760.50 75.14,760.50 C77.81,760.50 79.51,761.34 80.00,763.30 C79.51,765.26 77.81,766.10 75.14,766.10 C70.55,766.10 70.55,765.71 66.50,765.71 C62.45,765.71 62.45,766.10 57.86,766.10 C55.19,766.10 53.49,765.26 53.00,763.30Z" fill="#000" opacity="1.00" filter="url(#blur1)"/>
<path d="M86.00,763.30 C86.52,761.34 88.35,760.50 91.22,760.50 C96.15,760.50 96.15,760.89 100.50,760.89 C104.85,760.89 104.85,760.50 109.78,760.50 C112.65,760.50 114.48,761.34 115.00,763.30 C114.48,765.26 112.65,766.10 109.78,766.10 C104.85,766.10 104.85,765.71 100.50,765.71 C96.15,765.71 96.15,766.10 91.22,766.10 C88.35,766.10 86.52,765.26 86.00,763.30Z" fill="#000" opacity="1.00" filter="url(#blur1)"/>
<path d="M121.00,763.30 C121.56,761.34 123.51,760.50 126.58,760.50 C131.85,760.50 131.85,760.89 136.50,760.89 C141.15,760.89 141.15,760.50 146.42,760.50 C149.49,760.50 151.44,761.34 152.00,763.30 C151.44,765.26 149.49,766.10 146.42,766.10 C141.15,766.10 141.15,765.71 136.50,765.71 C131.85,765.71 131.85,766.10 126.58,766.10 C123.51,766.10 121.56,765.26 121.00,763.30Z" fill="#000" opacity="1.00" filter="url(#blur1)"/>
<path d="M157.00,763.30 C157.58,761.34 159.59,760.50 162.76,760.50 C168.20,760.50 168.20,760.89 173.00,760.89 C177.80,760.89 177.80,760.50 183.24,760.50 C186.41,760.50 188.42,761.34 189.00,763.30 C188.42,765.26 186.41,766.10 183.24,766.10 C177.80,766.10 177.80,765.71 173.00,765.71 C168.20,765.71 168.20,766.10 162.76,766.10 C159.59,766.10 157.58,765.26 157.00,763.30Z" fill="#000" opacity="1.00" filter="url(#blur1)"/>
<text transform="translate(194.40,666.50) rotate(90)" font-size="9.8" font-weight="bold" text-anchor="middle" textLength="22.30" lengthAdjust="spacingAndGlyphs">H460</text>
<text transform="translate(194.40,710.00) rotate(90)" font-size="9.8" font-weight="bold" text-anchor="middle" textLength="22.40" lengthAdjust="spacingAndGlyphs">A549</text>
<text transform="translate(194.40,751.80) rotate(90)" font-size="9.8" font-weight="bold" text-anchor="middle" textLength="25.90" lengthAdjust="spacingAndGlyphs">H1299</text>
<text x="230.70" y="634.10" font-size="20" font-weight="bold" textLength="12.22" lengthAdjust="spacingAndGlyphs">n</text>
<text transform="translate(240.94,712.20) rotate(-90)" font-size="9.0" font-weight="bold" text-anchor="middle" textLength="109.30" lengthAdjust="spacingAndGlyphs">Relative expression level</text>
<text transform="translate(253.24,712.80) rotate(-90)" font-size="9.0" font-weight="bold" text-anchor="middle" textLength="75.20" lengthAdjust="spacingAndGlyphs">of FSCN1 protein</text>
<line x1="272.30" y1="669.60" x2="272.30" y2="757.20" stroke="#111" stroke-width="1.1"/>
<line x1="270.30" y1="756.80" x2="272.30" y2="756.80" stroke="#111" stroke-width="1.1"/>
<text x="269.80" y="759.64" font-size="7.9" font-weight="bold" text-anchor="end" textLength="11.20" lengthAdjust="spacingAndGlyphs">0.0</text>
<line x1="270.30" y1="735.10" x2="272.30" y2="735.10" stroke="#111" stroke-width="1.1"/>
<text x="269.80" y="737.94" font-size="7.9" font-weight="bold" text-anchor="end" textLength="11.20" lengthAdjust="spacingAndGlyphs">0.5</text>
<line x1="270.30" y1="713.40" x2="272.30" y2="713.40" stroke="#111" stroke-width="1.1"/>
<text x="269.80" y="716.24" font-size="7.9" font-weight="bold" text-anchor="end" textLength="11.20" lengthAdjust="spacingAndGlyphs">1.0</text>
<line x1="270.30" y1="691.70" x2="272.30" y2="691.70" stroke="#111" stroke-width="1.1"/>
<text x="269.80" y="694.54" font-size="7.9" font-weight="bold" text-anchor="end" textLength="11.20" lengthAdjust="spacingAndGlyphs">1.5</text>
<line x1="270.30" y1="670.00" x2="272.30" y2="670.00" stroke="#111" stroke-width="1.1"/>
<text x="269.80" y="672.84" font-size="7.9" font-weight="bold" text-anchor="end" textLength="11.20" lengthAdjust="spacingAndGlyphs">2.0</text>
<rect x="276.50" y="713.40" width="7.50" height="43.40" fill="#050505" />
<rect x="285.20" y="698.00" width="7.50" height="58.80" fill="#0b7a40" />
<line x1="288.95" y1="695.20" x2="288.95" y2="698.00" stroke="#222" stroke-width="0.9"/>
<line x1="287.07" y1="695.20" x2="290.82" y2="695.20" stroke="#222" stroke-width="0.9"/>
<text x="288.95" y="694.60" font-size="5.6" font-weight="bold" text-anchor="middle" textLength="5.19" lengthAdjust="spacingAndGlyphs">**</text>
<rect x="294.20" y="713.40" width="7.50" height="43.40" fill="#06064a" />
<rect x="303.30" y="733.00" width="7.80" height="23.80" fill="#c0420a" />
<line x1="307.20" y1="728.60" x2="307.20" y2="733.00" stroke="#222" stroke-width="0.9"/>
<line x1="305.25" y1="728.60" x2="309.15" y2="728.60" stroke="#222" stroke-width="0.9"/>
<text x="307.20" y="728.00" font-size="5.6" font-weight="bold" text-anchor="middle" textLength="7.41" lengthAdjust="spacingAndGlyphs">##</text>
<rect x="319.40" y="713.40" width="7.80" height="43.40" fill="#050505" />
<rect x="328.10" y="699.90" width="7.80" height="56.90" fill="#0b7a40" />
<line x1="332.00" y1="695.20" x2="332.00" y2="699.90" stroke="#222" stroke-width="0.9"/>
<line x1="330.05" y1="695.20" x2="333.95" y2="695.20" stroke="#222" stroke-width="0.9"/>
<text x="332.00" y="694.60" font-size="5.6" font-weight="bold" text-anchor="middle" textLength="5.19" lengthAdjust="spacingAndGlyphs">**</text>
<rect x="337.00" y="713.40" width="7.80" height="43.40" fill="#06064a" />
<rect x="346.00" y="726.90" width="8.00" height="29.90" fill="#c0420a" />
<line x1="350.00" y1="725.80" x2="350.00" y2="726.90" stroke="#222" stroke-width="0.9"/>
<line x1="348.00" y1="725.80" x2="352.00" y2="725.80" stroke="#222" stroke-width="0.9"/>
<text x="350.00" y="725.20" font-size="5.6" font-weight="bold" text-anchor="middle" textLength="7.41" lengthAdjust="spacingAndGlyphs">##</text>
<rect x="362.20" y="713.40" width="8.20" height="43.40" fill="#050505" />
<rect x="371.10" y="694.50" width="8.20" height="62.30" fill="#0b7a40" />
<line x1="375.20" y1="685.80" x2="375.20" y2="694.50" stroke="#222" stroke-width="0.9"/>
<line x1="373.15" y1="685.80" x2="377.25" y2="685.80" stroke="#222" stroke-width="0.9"/>
<text x="375.20" y="685.20" font-size="5.6" font-weight="bold" text-anchor="middle" textLength="5.19" lengthAdjust="spacingAndGlyphs">**</text>
<rect x="380.00" y="713.40" width="8.00" height="43.40" fill="#06064a" />
<rect x="389.20" y="730.00" width="7.80" height="26.80" fill="#c0420a" />
<line x1="393.10" y1="727.60" x2="393.10" y2="730.00" stroke="#222" stroke-width="0.9"/>
<line x1="391.15" y1="727.60" x2="395.05" y2="727.60" stroke="#222" stroke-width="0.9"/>
<text x="393.10" y="727.00" font-size="5.6" font-weight="bold" text-anchor="middle" textLength="7.41" lengthAdjust="spacingAndGlyphs">##</text>
<line x1="272.30" y1="756.80" x2="400.50" y2="756.80" stroke="#777" stroke-width="1.0"/>
<line x1="293.30" y1="756.80" x2="293.30" y2="758.80" stroke="#777" stroke-width="1.0"/>
<line x1="336.30" y1="756.80" x2="336.30" y2="758.80" stroke="#777" stroke-width="1.0"/>
<line x1="379.60" y1="756.80" x2="379.60" y2="758.80" stroke="#777" stroke-width="1.0"/>
<text x="293.10" y="769.30" font-size="7.8" font-weight="bold" text-anchor="middle" textLength="19.60" lengthAdjust="spacingAndGlyphs">H460</text>
<text x="336.70" y="769.30" font-size="7.8" font-weight="bold" text-anchor="middle" textLength="19.50" lengthAdjust="spacingAndGlyphs">A549</text>
<text x="379.40" y="769.30" font-size="7.8" font-weight="bold" text-anchor="middle" textLength="23.50" lengthAdjust="spacingAndGlyphs">H1299</text>
<rect x="334.20" y="643.00" width="9.40" height="6.40" fill="#050505" />
<text x="348.80" y="648.79" font-size="7.2" font-weight="bold" textLength="46.09" lengthAdjust="spacingAndGlyphs">inhibitor NC</text>
<rect x="334.20" y="651.00" width="9.40" height="5.90" fill="#0b7a40" />
<text x="348.80" y="656.54" font-size="7.2" font-weight="bold" textLength="65.80" lengthAdjust="spacingAndGlyphs">miR-326 inhibitor</text>
<rect x="334.20" y="658.80" width="9.40" height="5.80" fill="#06064a" />
<text x="348.80" y="664.29" font-size="7.2" font-weight="bold" textLength="37.16" lengthAdjust="spacingAndGlyphs">mimic NC</text>
<rect x="334.20" y="666.50" width="9.40" height="5.90" fill="#c0420a" />
<text x="348.80" y="672.04" font-size="7.2" font-weight="bold" textLength="56.87" lengthAdjust="spacingAndGlyphs">miR-326 mimic</text>
<text x="436.70" y="633.10" font-size="20" font-weight="bold" textLength="12.22" lengthAdjust="spacingAndGlyphs">o</text>
<text x="488.30" y="630.80" font-size="7.0" font-weight="bold" text-anchor="middle" textLength="36.57" lengthAdjust="spacingAndGlyphs">BEAS-2B</text>
<text x="525.90" y="630.80" font-size="7.0" font-weight="bold" text-anchor="middle" textLength="19.91" lengthAdjust="spacingAndGlyphs">A549</text>
<text x="559.60" y="630.80" font-size="7.0" font-weight="bold" text-anchor="middle" textLength="19.91" lengthAdjust="spacingAndGlyphs">H460</text>
<text x="595.00" y="630.80" font-size="7.0" font-weight="bold" text-anchor="middle" textLength="24.55" lengthAdjust="spacingAndGlyphs">H1299</text>
<rect x="472.50" y="633.50" width="137.90" height="18.90" fill="#f0f0f0" stroke="#1a1a1a" stroke-width="1.4"/>
<rect x="472.50" y="654.60" width="137.90" height="19.40" fill="#d9d9d9" stroke="#1a1a1a" stroke-width="1.4"/>
<text x="467.40" y="647.80" font-size="9.4" font-weight="bold" text-anchor="end" textLength="30.10" lengthAdjust="spacingAndGlyphs">FSCN1</text>
<text x="467.40" y="668.90" font-size="9.4" font-weight="bold" text-anchor="end" textLength="33.40" lengthAdjust="spacingAndGlyphs">GAPDH</text>
<path d="M479.00,642.80 C479.43,641.54 480.93,641.00 483.28,641.00 C487.33,641.00 487.33,641.25 490.90,641.25 C494.47,641.25 494.47,641.00 498.52,641.00 C500.87,641.00 502.37,641.54 502.80,642.80 C502.37,644.06 500.87,644.60 498.52,644.60 C494.47,644.60 494.47,644.35 490.90,644.35 C487.33,644.35 487.33,644.60 483.28,644.60 C480.93,644.60 479.43,644.06 479.00,642.80Z" fill="#000" opacity="0.75" filter="url(#blur1)"/>
<path d="M507.00,642.80 C507.55,641.26 509.47,640.60 512.49,640.60 C517.67,640.60 517.67,640.91 522.25,640.91 C526.83,640.91 526.83,640.60 532.01,640.60 C535.03,640.60 536.95,641.26 537.50,642.80 C536.95,644.34 535.03,645.00 532.01,645.00 C526.83,645.00 526.83,644.69 522.25,644.69 C517.67,644.69 517.67,645.00 512.49,645.00 C509.47,645.00 507.55,644.34 507.00,642.80Z" fill="#000" opacity="1.00" filter="url(#blur1)"/>
<path d="M545.70,642.80 C546.18,641.19 547.87,640.50 550.52,640.50 C555.08,640.50 555.08,640.82 559.10,640.82 C563.12,640.82 563.12,640.50 567.68,640.50 C570.33,640.50 572.02,641.19 572.50,642.80 C572.02,644.41 570.33,645.10 567.68,645.10 C563.12,645.10 563.12,644.78 559.10,644.78 C555.08,644.78 555.08,645.10 550.52,645.10 C547.87,645.10 546.18,644.41 545.70,642.80Z" fill="#000" opacity="1.00" filter="url(#blur1)"/>
<path d="M580.10,642.60 C580.59,640.50 582.31,639.60 585.01,639.60 C589.65,639.60 589.65,640.02 593.75,640.02 C597.85,640.02 597.85,639.60 602.49,639.60 C605.19,639.60 606.91,640.50 607.40,642.60 C606.91,644.70 605.19,645.60 602.49,645.60 C597.85,645.60 597.85,645.18 593.75,645.18 C589.65,645.18 589.65,645.60 585.01,645.60 C582.31,645.60 580.59,644.70 580.10,642.60Z" fill="#000" opacity="1.00" filter="url(#blur1)"/>
<path d="M475.00,665.40 C475.49,664.07 477.19,663.50 479.86,663.50 C484.45,663.50 484.45,663.77 488.50,663.77 C492.55,663.77 492.55,663.50 497.14,663.50 C499.81,663.50 501.51,664.07 502.00,665.40 C501.51,666.73 499.81,667.30 497.14,667.30 C492.55,667.30 492.55,667.03 488.50,667.03 C484.45,667.03 484.45,667.30 479.86,667.30 C477.19,667.30 475.49,666.73 475.00,665.40Z" fill="#000" opacity="1.00" filter="url(#blur1)"/>
<path d="M506.00,665.60 C506.49,664.27 508.22,663.70 510.94,663.70 C516.85,663.70 516.85,663.97 521.50,663.97 C526.15,663.97 526.15,663.70 532.06,663.70 C534.78,663.70 536.51,664.27 537.00,665.60 C536.51,666.93 534.78,667.50 532.06,667.50 C526.15,667.50 526.15,667.23 521.50,667.23 C516.85,667.23 516.85,667.50 510.94,667.50 C508.22,667.50 506.49,666.93 506.00,665.60Z" fill="#000" opacity="1.00" filter="url(#blur1)"/>
<path d="M544.00,665.60 C544.48,664.31 546.16,663.75 548.81,663.75 C553.55,663.75 553.55,664.01 557.65,664.01 C561.75,664.01 561.75,663.75 566.49,663.75 C569.14,663.75 570.82,664.31 571.30,665.60 C570.82,666.89 569.14,667.45 566.49,667.45 C561.75,667.45 561.75,667.19 557.65,667.19 C553.55,667.19 553.55,667.45 548.81,667.45 C546.16,667.45 544.48,666.89 544.00,665.60Z" fill="#000" opacity="1.00" filter="url(#blur1)"/>
<path d="M579.20,665.60 C579.68,664.31 581.36,663.75 584.01,663.75 C588.89,663.75 588.89,664.01 593.05,664.01 C597.21,664.01 597.21,663.75 602.09,663.75 C604.74,663.75 606.42,664.31 606.90,665.60 C606.42,666.89 604.74,667.45 602.09,667.45 C597.21,667.45 597.21,667.19 593.05,667.19 C588.89,667.19 588.89,667.45 584.01,667.45 C581.36,667.45 579.68,666.89 579.20,665.60Z" fill="#000" opacity="1.00" filter="url(#blur1)"/>
<text x="436.50" y="700.30" font-size="20" font-weight="bold" textLength="12.22" lengthAdjust="spacingAndGlyphs">p</text>
<text transform="translate(471.52,737.20) rotate(-90)" font-size="7.0" font-weight="bold" text-anchor="middle" textLength="94.80" lengthAdjust="spacingAndGlyphs">Relative expression level</text>
<text transform="translate(481.32,736.40) rotate(-90)" font-size="7.0" font-weight="bold" text-anchor="middle" textLength="67.00" lengthAdjust="spacingAndGlyphs">of FSCN1 protein</text>
<line x1="495.20" y1="698.60" x2="495.20" y2="775.20" stroke="#444" stroke-width="1.1"/>
<line x1="493.20" y1="774.80" x2="495.20" y2="774.80" stroke="#444" stroke-width="1.1"/>
<text x="493.00" y="776.53" font-size="4.8" font-weight="bold" text-anchor="end" textLength="7.94" lengthAdjust="spacingAndGlyphs">0.0</text>
<line x1="493.20" y1="755.85" x2="495.20" y2="755.85" stroke="#444" stroke-width="1.1"/>
<text x="493.00" y="757.58" font-size="4.8" font-weight="bold" text-anchor="end" textLength="7.94" lengthAdjust="spacingAndGlyphs">0.5</text>
<line x1="493.20" y1="736.90" x2="495.20" y2="736.90" stroke="#444" stroke-width="1.1"/>
<text x="493.00" y="738.63" font-size="4.8" font-weight="bold" text-anchor="end" textLength="7.94" lengthAdjust="spacingAndGlyphs">1.0</text>
<line x1="493.20" y1="717.95" x2="495.20" y2="717.95" stroke="#444" stroke-width="1.1"/>
<text x="493.00" y="719.68" font-size="4.8" font-weight="bold" text-anchor="end" textLength="7.94" lengthAdjust="spacingAndGlyphs">1.5</text>
<line x1="493.20" y1="699.00" x2="495.20" y2="699.00" stroke="#444" stroke-width="1.1"/>
<text x="493.00" y="700.73" font-size="4.8" font-weight="bold" text-anchor="end" textLength="7.94" lengthAdjust="spacingAndGlyphs">2.0</text>
<rect x="503.40" y="736.90" width="17.30" height="37.90" fill="#050505" />
<rect x="528.90" y="719.20" width="17.00" height="55.60" fill="#0b7a40" />
<line x1="537.40" y1="716.60" x2="537.40" y2="719.20" stroke="#222" stroke-width="0.9"/>
<line x1="533.90" y1="716.60" x2="540.90" y2="716.60" stroke="#222" stroke-width="0.9"/>
<text x="537.40" y="716.00" font-size="5.0" font-weight="bold" text-anchor="middle" textLength="4.63" lengthAdjust="spacingAndGlyphs">**</text>
<rect x="554.00" y="715.30" width="17.00" height="59.50" fill="#7a2800" />
<line x1="562.50" y1="712.00" x2="562.50" y2="715.30" stroke="#222" stroke-width="0.9"/>
<line x1="559.00" y1="712.00" x2="566.00" y2="712.00" stroke="#222" stroke-width="0.9"/>
<text x="562.50" y="711.40" font-size="5.0" font-weight="bold" text-anchor="middle" textLength="4.63" lengthAdjust="spacingAndGlyphs">**</text>
<rect x="579.20" y="719.20" width="16.70" height="55.60" fill="#630066" />
<line x1="587.55" y1="717.60" x2="587.55" y2="719.20" stroke="#222" stroke-width="0.9"/>
<line x1="584.05" y1="717.60" x2="591.05" y2="717.60" stroke="#222" stroke-width="0.9"/>
<text x="587.55" y="717.00" font-size="5.0" font-weight="bold" text-anchor="middle" textLength="4.63" lengthAdjust="spacingAndGlyphs">**</text>
<line x1="495.20" y1="774.80" x2="604.70" y2="774.80" stroke="#777" stroke-width="1.0"/>
<line x1="512.00" y1="774.80" x2="512.00" y2="776.80" stroke="#777" stroke-width="1.0"/>
<line x1="537.40" y1="774.80" x2="537.40" y2="776.80" stroke="#777" stroke-width="1.0"/>
<line x1="562.50" y1="774.80" x2="562.50" y2="776.80" stroke="#777" stroke-width="1.0"/>
<line x1="587.50" y1="774.80" x2="587.50" y2="776.80" stroke="#777" stroke-width="1.0"/>
<text x="511.50" y="782.60" font-size="6.0" font-weight="bold" text-anchor="middle" textLength="26.20" lengthAdjust="spacingAndGlyphs">BEAS-2B</text>
<text x="537.80" y="782.60" font-size="6.0" font-weight="bold" text-anchor="middle" textLength="18.00" lengthAdjust="spacingAndGlyphs">H1299</text>
<text x="563.00" y="782.60" font-size="6.0" font-weight="bold" text-anchor="middle" textLength="14.70" lengthAdjust="spacingAndGlyphs">H460</text>
<text x="587.80" y="782.60" font-size="6.0" font-weight="bold" text-anchor="middle" textLength="15.50" lengthAdjust="spacingAndGlyphs">A549</text>
<text x="2.00" y="815.00" font-size="10" font-weight="bold" textLength="146.76" lengthAdjust="spacingAndGlyphs">Fig. 6<tspan font-weight="normal"> (See legend on next page)</tspan></text></svg></body></html>
